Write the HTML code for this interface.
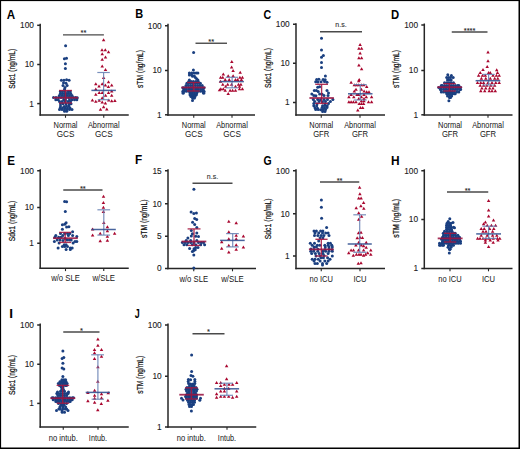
<!DOCTYPE html>
<html><head><meta charset="utf-8"><style>
html,body{margin:0;padding:0;background:#fff;}
body{width:520px;height:449px;overflow:hidden;}
svg{display:block;font-family:"Liberation Sans",sans-serif;}
text{stroke:#111;stroke-width:0.1px;paint-order:stroke;}
text.yl{stroke-width:0.22px;}
text.nb{stroke:none;}
</style></head><body>
<svg width="520" height="449" viewBox="0 0 520 449">
<rect x="0" y="0" width="1.1" height="449" fill="#000"/><rect x="0" y="0" width="520" height="1.1" fill="#000"/><rect x="518.5" y="0" width="1.5" height="449" fill="#000"/><rect x="0" y="447.5" width="520" height="1.5" fill="#000"/>
<line x1="40.2" y1="23.8" x2="40.2" y2="115.65" stroke="#262626" stroke-width="1.5"/>
<line x1="39.550000000000004" y1="115" x2="128.75" y2="115" stroke="#262626" stroke-width="1.5"/>
<line x1="37.2" y1="25.3" x2="40.2" y2="25.3" stroke="#262626" stroke-width="1.5"/>
<text x="33.900000000000006" y="28.2" font-size="8.3" text-anchor="end" font-weight="normal" fill="#1a1a1a" >100</text>
<line x1="37.2" y1="64.5" x2="40.2" y2="64.5" stroke="#262626" stroke-width="1.5"/>
<text x="33.900000000000006" y="67.4" font-size="8.3" text-anchor="end" font-weight="normal" fill="#1a1a1a" >10</text>
<line x1="37.2" y1="103.6" x2="40.2" y2="103.6" stroke="#262626" stroke-width="1.5"/>
<text x="33.900000000000006" y="106.5" font-size="8.3" text-anchor="end" font-weight="normal" fill="#1a1a1a" >1</text>
<line x1="65.5" y1="115" x2="65.5" y2="117.8" stroke="#262626" stroke-width="1.1"/>
<line x1="103.75" y1="115" x2="103.75" y2="117.8" stroke="#262626" stroke-width="1.1"/>
<text class="nb" x="65.5" y="127.8" font-size="8.8" text-anchor="middle" font-weight="normal" fill="#151515" textLength="24" lengthAdjust="spacingAndGlyphs" >Normal</text>
<text class="nb" x="65.5" y="137.2" font-size="8.8" text-anchor="middle" font-weight="normal" fill="#151515" textLength="17.7" lengthAdjust="spacingAndGlyphs" >GCS</text>
<text class="nb" x="103.75" y="127.8" font-size="8.8" text-anchor="middle" font-weight="normal" fill="#151515" textLength="31.6" lengthAdjust="spacingAndGlyphs" >Abnormal</text>
<text class="nb" x="103.75" y="137.2" font-size="8.8" text-anchor="middle" font-weight="normal" fill="#151515" textLength="17.7" lengthAdjust="spacingAndGlyphs" >GCS</text>
<line x1="63" y1="34.9" x2="103.9" y2="34.9" stroke="#4a4a4a" stroke-width="1.4"/>
<text x="83.45" y="35.4" font-size="7.5" text-anchor="middle" font-weight="normal" fill="#222" >**</text>
<text class="yl" x="0" y="0" font-size="8.3" text-anchor="middle" fill="#111" textLength="40" lengthAdjust="spacingAndGlyphs" transform="translate(14.6,68.75) rotate(-90)">Sdc1 (ng/mL)</text>
<line x1="168" y1="23.8" x2="168" y2="115.65" stroke="#262626" stroke-width="1.5"/>
<line x1="167.35" y1="115" x2="255" y2="115" stroke="#262626" stroke-width="1.5"/>
<line x1="165" y1="25.75" x2="168" y2="25.75" stroke="#262626" stroke-width="1.5"/>
<text x="161.7" y="28.65" font-size="8.3" text-anchor="end" font-weight="normal" fill="#1a1a1a" >100</text>
<line x1="165" y1="70.5" x2="168" y2="70.5" stroke="#262626" stroke-width="1.5"/>
<text x="161.7" y="73.4" font-size="8.3" text-anchor="end" font-weight="normal" fill="#1a1a1a" >10</text>
<line x1="165" y1="114.8" x2="168" y2="114.8" stroke="#262626" stroke-width="1.5"/>
<text x="161.7" y="117.7" font-size="8.3" text-anchor="end" font-weight="normal" fill="#1a1a1a" >1</text>
<line x1="193.75" y1="115" x2="193.75" y2="117.8" stroke="#262626" stroke-width="1.1"/>
<line x1="232" y1="115" x2="232" y2="117.8" stroke="#262626" stroke-width="1.1"/>
<text class="nb" x="193.75" y="127.8" font-size="8.8" text-anchor="middle" font-weight="normal" fill="#151515" textLength="24" lengthAdjust="spacingAndGlyphs" >Normal</text>
<text class="nb" x="193.75" y="137.2" font-size="8.8" text-anchor="middle" font-weight="normal" fill="#151515" textLength="17.7" lengthAdjust="spacingAndGlyphs" >GCS</text>
<text class="nb" x="232" y="127.8" font-size="8.8" text-anchor="middle" font-weight="normal" fill="#151515" textLength="31.6" lengthAdjust="spacingAndGlyphs" >Abnormal</text>
<text class="nb" x="232" y="137.2" font-size="8.8" text-anchor="middle" font-weight="normal" fill="#151515" textLength="17.7" lengthAdjust="spacingAndGlyphs" >GCS</text>
<line x1="195.5" y1="43.25" x2="227" y2="43.25" stroke="#4a4a4a" stroke-width="1.4"/>
<text x="211.25" y="43.75" font-size="7.5" text-anchor="middle" font-weight="normal" fill="#222" >**</text>
<text class="yl" x="0" y="0" font-size="8.3" text-anchor="middle" fill="#111" textLength="38" lengthAdjust="spacingAndGlyphs" transform="translate(142.8,69) rotate(-90)">sTM (ng/mL)</text>
<line x1="296" y1="23.3" x2="296" y2="115.65" stroke="#262626" stroke-width="1.5"/>
<line x1="295.35" y1="115" x2="385" y2="115" stroke="#262626" stroke-width="1.5"/>
<line x1="293" y1="24.25" x2="296" y2="24.25" stroke="#262626" stroke-width="1.5"/>
<text x="289.7" y="27.15" font-size="8.3" text-anchor="end" font-weight="normal" fill="#1a1a1a" >100</text>
<line x1="293" y1="63.25" x2="296" y2="63.25" stroke="#262626" stroke-width="1.5"/>
<text x="289.7" y="66.15" font-size="8.3" text-anchor="end" font-weight="normal" fill="#1a1a1a" >10</text>
<line x1="293" y1="102.5" x2="296" y2="102.5" stroke="#262626" stroke-width="1.5"/>
<text x="289.7" y="105.4" font-size="8.3" text-anchor="end" font-weight="normal" fill="#1a1a1a" >1</text>
<line x1="321.25" y1="115" x2="321.25" y2="117.8" stroke="#262626" stroke-width="1.1"/>
<line x1="360" y1="115" x2="360" y2="117.8" stroke="#262626" stroke-width="1.1"/>
<text class="nb" x="321.25" y="127.8" font-size="8.8" text-anchor="middle" font-weight="normal" fill="#151515" textLength="24" lengthAdjust="spacingAndGlyphs" >Normal</text>
<text class="nb" x="321.25" y="137.2" font-size="8.8" text-anchor="middle" font-weight="normal" fill="#151515" textLength="16.2" lengthAdjust="spacingAndGlyphs" >GFR</text>
<text class="nb" x="360" y="127.8" font-size="8.8" text-anchor="middle" font-weight="normal" fill="#151515" textLength="31.6" lengthAdjust="spacingAndGlyphs" >Abnormal</text>
<text class="nb" x="360" y="137.2" font-size="8.8" text-anchor="middle" font-weight="normal" fill="#151515" textLength="16.2" lengthAdjust="spacingAndGlyphs" >GFR</text>
<line x1="320" y1="31.75" x2="362" y2="31.75" stroke="#4a4a4a" stroke-width="1.4"/>
<text x="341.0" y="27.45" font-size="7" text-anchor="middle" font-weight="normal" fill="#333" >n.s.</text>
<text class="yl" x="0" y="0" font-size="8.3" text-anchor="middle" fill="#111" textLength="40" lengthAdjust="spacingAndGlyphs" transform="translate(271,68) rotate(-90)">Sdc1 (ng/mL)</text>
<line x1="424.3" y1="23.5" x2="424.3" y2="115.65" stroke="#262626" stroke-width="1.5"/>
<line x1="423.65000000000003" y1="115" x2="512.5" y2="115" stroke="#262626" stroke-width="1.5"/>
<line x1="421.3" y1="25" x2="424.3" y2="25" stroke="#262626" stroke-width="1.5"/>
<text x="418.0" y="27.9" font-size="8.3" text-anchor="end" font-weight="normal" fill="#1a1a1a" >100</text>
<line x1="421.3" y1="70.5" x2="424.3" y2="70.5" stroke="#262626" stroke-width="1.5"/>
<text x="418.0" y="73.4" font-size="8.3" text-anchor="end" font-weight="normal" fill="#1a1a1a" >10</text>
<line x1="421.3" y1="114.8" x2="424.3" y2="114.8" stroke="#262626" stroke-width="1.5"/>
<text x="418.0" y="117.7" font-size="8.3" text-anchor="end" font-weight="normal" fill="#1a1a1a" >1</text>
<line x1="450" y1="115" x2="450" y2="117.8" stroke="#262626" stroke-width="1.1"/>
<line x1="488" y1="115" x2="488" y2="117.8" stroke="#262626" stroke-width="1.1"/>
<text class="nb" x="450" y="127.8" font-size="8.8" text-anchor="middle" font-weight="normal" fill="#151515" textLength="24" lengthAdjust="spacingAndGlyphs" >Normal</text>
<text class="nb" x="450" y="137.2" font-size="8.8" text-anchor="middle" font-weight="normal" fill="#151515" textLength="16.2" lengthAdjust="spacingAndGlyphs" >GFR</text>
<text class="nb" x="488" y="127.8" font-size="8.8" text-anchor="middle" font-weight="normal" fill="#151515" textLength="31.6" lengthAdjust="spacingAndGlyphs" >Abnormal</text>
<text class="nb" x="488" y="137.2" font-size="8.8" text-anchor="middle" font-weight="normal" fill="#151515" textLength="16.2" lengthAdjust="spacingAndGlyphs" >GFR</text>
<line x1="451.75" y1="32" x2="487.5" y2="32" stroke="#4a4a4a" stroke-width="1.4"/>
<text x="469.625" y="32.5" font-size="7.5" text-anchor="middle" font-weight="normal" fill="#222" >****</text>
<text class="yl" x="0" y="0" font-size="8.3" text-anchor="middle" fill="#111" textLength="38" lengthAdjust="spacingAndGlyphs" transform="translate(399.4,69) rotate(-90)">sTM (ng/mL)</text>
<line x1="40.2" y1="169.3" x2="40.2" y2="268.95" stroke="#262626" stroke-width="1.5"/>
<line x1="39.550000000000004" y1="268.3" x2="128.75" y2="268.3" stroke="#262626" stroke-width="1.5"/>
<line x1="37.2" y1="170.75" x2="40.2" y2="170.75" stroke="#262626" stroke-width="1.5"/>
<text x="33.900000000000006" y="173.65" font-size="8.3" text-anchor="end" font-weight="normal" fill="#1a1a1a" >100</text>
<line x1="37.2" y1="207.5" x2="40.2" y2="207.5" stroke="#262626" stroke-width="1.5"/>
<text x="33.900000000000006" y="210.4" font-size="8.3" text-anchor="end" font-weight="normal" fill="#1a1a1a" >10</text>
<line x1="37.2" y1="243.25" x2="40.2" y2="243.25" stroke="#262626" stroke-width="1.5"/>
<text x="33.900000000000006" y="246.15" font-size="8.3" text-anchor="end" font-weight="normal" fill="#1a1a1a" >1</text>
<line x1="65.5" y1="268.3" x2="65.5" y2="271.1" stroke="#262626" stroke-width="1.1"/>
<line x1="103.75" y1="268.3" x2="103.75" y2="271.1" stroke="#262626" stroke-width="1.1"/>
<text class="nb" x="65.5" y="281.3" font-size="8.8" text-anchor="middle" font-weight="normal" fill="#151515" textLength="28.6" lengthAdjust="spacingAndGlyphs" >w/o SLE</text>
<text class="nb" x="103.75" y="281.3" font-size="8.8" text-anchor="middle" font-weight="normal" fill="#151515" textLength="22.6" lengthAdjust="spacingAndGlyphs" >w/SLE</text>
<line x1="63.25" y1="190" x2="102.5" y2="190" stroke="#4a4a4a" stroke-width="1.4"/>
<text x="82.875" y="190.5" font-size="7.5" text-anchor="middle" font-weight="normal" fill="#222" >**</text>
<text class="yl" x="0" y="0" font-size="8.3" text-anchor="middle" fill="#111" textLength="40.5" lengthAdjust="spacingAndGlyphs" transform="translate(15,221.1) rotate(-90)">Sdc1 (ng/mL)</text>
<line x1="168" y1="169.3" x2="168" y2="269.15" stroke="#262626" stroke-width="1.5"/>
<line x1="167.35" y1="268.5" x2="256" y2="268.5" stroke="#262626" stroke-width="1.5"/>
<line x1="165" y1="170.75" x2="168" y2="170.75" stroke="#262626" stroke-width="1.5"/>
<text x="161.7" y="173.65" font-size="8.3" text-anchor="end" font-weight="normal" fill="#1a1a1a" >15</text>
<line x1="165" y1="203.75" x2="168" y2="203.75" stroke="#262626" stroke-width="1.5"/>
<text x="161.7" y="206.65" font-size="8.3" text-anchor="end" font-weight="normal" fill="#1a1a1a" >10</text>
<line x1="165" y1="236.25" x2="168" y2="236.25" stroke="#262626" stroke-width="1.5"/>
<text x="161.7" y="239.15" font-size="8.3" text-anchor="end" font-weight="normal" fill="#1a1a1a" >5</text>
<line x1="165" y1="268.5" x2="168" y2="268.5" stroke="#262626" stroke-width="1.5"/>
<text x="161.7" y="271.4" font-size="8.3" text-anchor="end" font-weight="normal" fill="#1a1a1a" >0</text>
<line x1="193.75" y1="268.5" x2="193.75" y2="271.3" stroke="#262626" stroke-width="1.1"/>
<line x1="232.5" y1="268.5" x2="232.5" y2="271.3" stroke="#262626" stroke-width="1.1"/>
<text class="nb" x="193.75" y="281.5" font-size="8.8" text-anchor="middle" font-weight="normal" fill="#151515" textLength="28.6" lengthAdjust="spacingAndGlyphs" >w/o SLE</text>
<text class="nb" x="232.5" y="281.5" font-size="8.8" text-anchor="middle" font-weight="normal" fill="#151515" textLength="22.6" lengthAdjust="spacingAndGlyphs" >w/SLE</text>
<line x1="192.5" y1="183.25" x2="232.5" y2="183.25" stroke="#4a4a4a" stroke-width="1.4"/>
<text x="212.5" y="178.95" font-size="7" text-anchor="middle" font-weight="normal" fill="#333" >n.s.</text>
<text class="yl" x="0" y="0" font-size="8.3" text-anchor="middle" fill="#111" textLength="38.5" lengthAdjust="spacingAndGlyphs" transform="translate(147.1,218.8) rotate(-90)">sTM (ng/mL)</text>
<line x1="296" y1="169.3" x2="296" y2="269.15" stroke="#262626" stroke-width="1.5"/>
<line x1="295.35" y1="268.5" x2="385" y2="268.5" stroke="#262626" stroke-width="1.5"/>
<line x1="293" y1="170.75" x2="296" y2="170.75" stroke="#262626" stroke-width="1.5"/>
<text x="289.7" y="173.65" font-size="8.3" text-anchor="end" font-weight="normal" fill="#1a1a1a" >100</text>
<line x1="293" y1="213.75" x2="296" y2="213.75" stroke="#262626" stroke-width="1.5"/>
<text x="289.7" y="216.65" font-size="8.3" text-anchor="end" font-weight="normal" fill="#1a1a1a" >10</text>
<line x1="293" y1="256" x2="296" y2="256" stroke="#262626" stroke-width="1.5"/>
<text x="289.7" y="258.9" font-size="8.3" text-anchor="end" font-weight="normal" fill="#1a1a1a" >1</text>
<line x1="321.25" y1="268.5" x2="321.25" y2="271.3" stroke="#262626" stroke-width="1.1"/>
<line x1="360" y1="268.5" x2="360" y2="271.3" stroke="#262626" stroke-width="1.1"/>
<text class="nb" x="321.25" y="281.5" font-size="8.8" text-anchor="middle" font-weight="normal" fill="#151515" textLength="23.4" lengthAdjust="spacingAndGlyphs" >no ICU</text>
<text class="nb" x="360" y="281.5" font-size="8.8" text-anchor="middle" font-weight="normal" fill="#151515" textLength="13.1" lengthAdjust="spacingAndGlyphs" >ICU</text>
<line x1="320" y1="182" x2="359.25" y2="182" stroke="#4a4a4a" stroke-width="1.4"/>
<text x="339.625" y="182.5" font-size="7.5" text-anchor="middle" font-weight="normal" fill="#222" >**</text>
<text class="yl" x="0" y="0" font-size="8.3" text-anchor="middle" fill="#111" textLength="40.8" lengthAdjust="spacingAndGlyphs" transform="translate(271.4,218.8) rotate(-90)">Sdc1 (ng/mL)</text>
<line x1="424.3" y1="169.3" x2="424.3" y2="269.15" stroke="#262626" stroke-width="1.5"/>
<line x1="423.65000000000003" y1="268.5" x2="512.5" y2="268.5" stroke="#262626" stroke-width="1.5"/>
<line x1="421.3" y1="170.75" x2="424.3" y2="170.75" stroke="#262626" stroke-width="1.5"/>
<text x="418.0" y="173.65" font-size="8.3" text-anchor="end" font-weight="normal" fill="#1a1a1a" >100</text>
<line x1="421.3" y1="219.5" x2="424.3" y2="219.5" stroke="#262626" stroke-width="1.5"/>
<text x="418.0" y="222.4" font-size="8.3" text-anchor="end" font-weight="normal" fill="#1a1a1a" >10</text>
<line x1="421.3" y1="268.5" x2="424.3" y2="268.5" stroke="#262626" stroke-width="1.5"/>
<text x="418.0" y="271.4" font-size="8.3" text-anchor="end" font-weight="normal" fill="#1a1a1a" >1</text>
<line x1="450" y1="268.5" x2="450" y2="271.3" stroke="#262626" stroke-width="1.1"/>
<line x1="488.5" y1="268.5" x2="488.5" y2="271.3" stroke="#262626" stroke-width="1.1"/>
<text class="nb" x="450" y="281.5" font-size="8.8" text-anchor="middle" font-weight="normal" fill="#151515" textLength="23.4" lengthAdjust="spacingAndGlyphs" >no ICU</text>
<text class="nb" x="488.5" y="281.5" font-size="8.8" text-anchor="middle" font-weight="normal" fill="#151515" textLength="13.1" lengthAdjust="spacingAndGlyphs" >ICU</text>
<line x1="447" y1="192" x2="488.25" y2="192" stroke="#4a4a4a" stroke-width="1.4"/>
<text x="467.625" y="192.5" font-size="7.5" text-anchor="middle" font-weight="normal" fill="#222" >**</text>
<text class="yl" x="0" y="0" font-size="8.3" text-anchor="middle" fill="#111" textLength="38.7" lengthAdjust="spacingAndGlyphs" transform="translate(399.1,218.3) rotate(-90)">sTM (ng/mL)</text>
<line x1="40.2" y1="323.5" x2="40.2" y2="427.65" stroke="#262626" stroke-width="1.5"/>
<line x1="39.550000000000004" y1="427" x2="128.75" y2="427" stroke="#262626" stroke-width="1.5"/>
<line x1="37.2" y1="325" x2="40.2" y2="325" stroke="#262626" stroke-width="1.5"/>
<text x="33.900000000000006" y="327.9" font-size="8.3" text-anchor="end" font-weight="normal" fill="#1a1a1a" >100</text>
<line x1="37.2" y1="364.25" x2="40.2" y2="364.25" stroke="#262626" stroke-width="1.5"/>
<text x="33.900000000000006" y="367.15" font-size="8.3" text-anchor="end" font-weight="normal" fill="#1a1a1a" >10</text>
<line x1="37.2" y1="403.4" x2="40.2" y2="403.4" stroke="#262626" stroke-width="1.5"/>
<text x="33.900000000000006" y="406.29999999999995" font-size="8.3" text-anchor="end" font-weight="normal" fill="#1a1a1a" >1</text>
<line x1="63.25" y1="427" x2="63.25" y2="429.8" stroke="#262626" stroke-width="1.1"/>
<line x1="98" y1="427" x2="98" y2="429.8" stroke="#262626" stroke-width="1.1"/>
<text class="nb" x="63.25" y="440.5" font-size="8.4" text-anchor="middle" font-weight="normal" fill="#151515" textLength="29.1" lengthAdjust="spacingAndGlyphs" >no intub.</text>
<text class="nb" x="98" y="440.5" font-size="8.4" text-anchor="middle" font-weight="normal" fill="#151515" textLength="18.3" lengthAdjust="spacingAndGlyphs" >Intub.</text>
<line x1="63.25" y1="332" x2="99.5" y2="332" stroke="#4a4a4a" stroke-width="1.4"/>
<text x="81.375" y="332.5" font-size="7.5" text-anchor="middle" font-weight="normal" fill="#222" >*</text>
<text class="yl" x="0" y="0" font-size="8.3" text-anchor="middle" fill="#111" textLength="40" lengthAdjust="spacingAndGlyphs" transform="translate(14.7,375) rotate(-90)">Sdc1 (ng/mL)</text>
<line x1="168" y1="323.5" x2="168" y2="427.65" stroke="#262626" stroke-width="1.5"/>
<line x1="167.35" y1="427" x2="256.25" y2="427" stroke="#262626" stroke-width="1.5"/>
<line x1="165" y1="325" x2="168" y2="325" stroke="#262626" stroke-width="1.5"/>
<text x="161.7" y="327.9" font-size="8.3" text-anchor="end" font-weight="normal" fill="#1a1a1a" >100</text>
<line x1="165" y1="376.25" x2="168" y2="376.25" stroke="#262626" stroke-width="1.5"/>
<text x="161.7" y="379.15" font-size="8.3" text-anchor="end" font-weight="normal" fill="#1a1a1a" >10</text>
<line x1="165" y1="427" x2="168" y2="427" stroke="#262626" stroke-width="1.5"/>
<text x="161.7" y="429.9" font-size="8.3" text-anchor="end" font-weight="normal" fill="#1a1a1a" >1</text>
<line x1="191.25" y1="427" x2="191.25" y2="429.8" stroke="#262626" stroke-width="1.1"/>
<line x1="227" y1="427" x2="227" y2="429.8" stroke="#262626" stroke-width="1.1"/>
<text class="nb" x="191.25" y="440.5" font-size="8.4" text-anchor="middle" font-weight="normal" fill="#151515" textLength="29.1" lengthAdjust="spacingAndGlyphs" >no intub.</text>
<text class="nb" x="227" y="440.5" font-size="8.4" text-anchor="middle" font-weight="normal" fill="#151515" textLength="18.3" lengthAdjust="spacingAndGlyphs" >Intub.</text>
<line x1="192.5" y1="333.75" x2="224.5" y2="333.75" stroke="#4a4a4a" stroke-width="1.4"/>
<text x="208.5" y="334.25" font-size="7.5" text-anchor="middle" font-weight="normal" fill="#222" >*</text>
<text class="yl" x="0" y="0" font-size="8.3" text-anchor="middle" fill="#111" textLength="38" lengthAdjust="spacingAndGlyphs" transform="translate(143.1,374.7) rotate(-90)">sTM (ng/mL)</text>
<text class="nb" x="0" y="0" font-size="12.3" font-weight="bold" fill="#000" transform="translate(6.85,18.5) scale(0.949,1)">A</text>
<text class="nb" x="0" y="0" font-size="12.3" font-weight="bold" fill="#000" transform="translate(135.23,18.4) scale(0.893,1)">B</text>
<text class="nb" x="0" y="0" font-size="12.3" font-weight="bold" fill="#000" transform="translate(263.38,18.5) scale(0.863,1)">C</text>
<text class="nb" x="0" y="0" font-size="12.3" font-weight="bold" fill="#000" transform="translate(391.01,18.5) scale(0.920,1)">D</text>
<text class="nb" x="0" y="0" font-size="12.3" font-weight="bold" fill="#000" transform="translate(7.19,164.5) scale(0.944,1)">E</text>
<text class="nb" x="0" y="0" font-size="12.3" font-weight="bold" fill="#000" transform="translate(134.97,164.4) scale(0.959,1)">F</text>
<text class="nb" x="0" y="0" font-size="12.3" font-weight="bold" fill="#000" transform="translate(263.38,164.5) scale(0.849,1)">G</text>
<text class="nb" x="0" y="0" font-size="12.3" font-weight="bold" fill="#000" transform="translate(390.97,164.5) scale(0.967,1)">H</text>
<text class="nb" x="0" y="0" font-size="12.3" font-weight="bold" fill="#000" transform="translate(9.25,317.5) scale(1.103,1)">I</text>
<text class="nb" x="0" y="0" font-size="12.3" font-weight="bold" fill="#000" transform="translate(134.82,317.5) scale(0.727,1)">J</text>
<g fill="#1a3f80"><circle cx="65.6" cy="45.8" r="1.5"/><circle cx="64.4" cy="58.7" r="1.5"/><circle cx="66.5" cy="58.2" r="1.5"/><circle cx="65.4" cy="63.8" r="1.5"/><circle cx="65.4" cy="68.6" r="1.5"/><circle cx="61.4" cy="80.3" r="1.5"/><circle cx="64.0" cy="80.3" r="1.5"/><circle cx="66.6" cy="79.7" r="1.5"/><circle cx="69.1" cy="80.3" r="1.5"/><circle cx="63.5" cy="82.8" r="1.5"/><circle cx="66.0" cy="83.3" r="1.5"/><circle cx="63.0" cy="85.4" r="1.5"/><circle cx="67.1" cy="85.4" r="1.5"/><circle cx="65.0" cy="87.4" r="1.5"/><circle cx="64.5" cy="89.2" r="1.5"/><circle cx="60.4" cy="91.5" r="1.5"/><circle cx="62.5" cy="91.5" r="1.5"/><circle cx="65.0" cy="91.3" r="1.5"/><circle cx="68.1" cy="91.5" r="1.5"/><circle cx="70.2" cy="91.5" r="1.5"/><circle cx="60.4" cy="93.6" r="1.5"/><circle cx="62.5" cy="93.6" r="1.5"/><circle cx="64.5" cy="93.4" r="1.5"/><circle cx="66.5" cy="93.6" r="1.5"/><circle cx="68.5" cy="93.6" r="1.5"/><circle cx="70.7" cy="93.6" r="1.5"/><circle cx="59.4" cy="95.6" r="1.5"/><circle cx="62.0" cy="95.6" r="1.5"/><circle cx="64.5" cy="95.6" r="1.5"/><circle cx="67.0" cy="95.6" r="1.5"/><circle cx="69.5" cy="95.6" r="1.5"/><circle cx="72.0" cy="95.6" r="1.5"/><circle cx="53.5" cy="97.5" r="1.5"/><circle cx="56.0" cy="97.5" r="1.5"/><circle cx="58.5" cy="97.5" r="1.5"/><circle cx="61.0" cy="97.5" r="1.5"/><circle cx="63.5" cy="97.5" r="1.5"/><circle cx="66.0" cy="97.5" r="1.5"/><circle cx="68.5" cy="97.5" r="1.5"/><circle cx="71.0" cy="97.5" r="1.5"/><circle cx="73.5" cy="97.5" r="1.5"/><circle cx="75.7" cy="97.5" r="1.5"/><circle cx="77.3" cy="97.8" r="1.5"/><circle cx="55.8" cy="99.7" r="1.5"/><circle cx="58.2" cy="99.7" r="1.5"/><circle cx="63.7" cy="99.7" r="1.5"/><circle cx="65.5" cy="100.0" r="1.5"/><circle cx="69.5" cy="99.7" r="1.5"/><circle cx="72.0" cy="99.7" r="1.5"/><circle cx="74.5" cy="99.7" r="1.5"/><circle cx="76.8" cy="99.7" r="1.5"/><circle cx="59.5" cy="101.4" r="1.5"/><circle cx="62.0" cy="101.4" r="1.5"/><circle cx="65.0" cy="101.6" r="1.5"/><circle cx="68.0" cy="101.4" r="1.5"/><circle cx="70.5" cy="101.4" r="1.5"/><circle cx="60.5" cy="103.8" r="1.5"/><circle cx="63.0" cy="103.8" r="1.5"/><circle cx="66.0" cy="103.8" r="1.5"/><circle cx="69.0" cy="103.8" r="1.5"/><circle cx="71.0" cy="103.8" r="1.5"/><circle cx="60.5" cy="105.9" r="1.5"/><circle cx="66.5" cy="105.9" r="1.5"/><circle cx="69.0" cy="105.9" r="1.5"/><circle cx="64.2" cy="106.6" r="1.5"/><circle cx="60.2" cy="108.0" r="1.5"/><circle cx="62.5" cy="108.0" r="1.5"/><circle cx="65.0" cy="108.0" r="1.5"/><circle cx="67.5" cy="108.0" r="1.5"/><circle cx="70.0" cy="108.0" r="1.5"/><circle cx="59.5" cy="109.6" r="1.5"/><circle cx="62.0" cy="109.6" r="1.5"/><circle cx="64.5" cy="109.8" r="1.5"/><circle cx="67.0" cy="109.6" r="1.5"/><circle cx="69.5" cy="109.6" r="1.5"/><circle cx="72.0" cy="109.5" r="1.5"/><circle cx="64.5" cy="111.3" r="1.5"/><circle cx="66.7" cy="111.3" r="1.5"/></g>
<g fill="#a9072f"><path d="M103.60 38.35L101.85 41.35L105.35 41.35Z"/><path d="M102.00 48.15L100.25 51.15L103.75 51.15Z"/><path d="M105.30 48.15L103.55 51.15L107.05 51.15Z"/><path d="M108.50 50.35L106.75 53.35L110.25 53.35Z"/><path d="M102.20 52.15L100.45 55.15L103.95 55.15Z"/><path d="M105.50 55.45L103.75 58.45L107.25 58.45Z"/><path d="M102.20 57.65L100.45 60.65L103.95 60.65Z"/><path d="M102.20 64.55L100.45 67.55L103.95 67.55Z"/><path d="M105.50 67.95L103.75 70.95L107.25 70.95Z"/><path d="M103.60 76.05L101.85 79.05L105.35 79.05Z"/><path d="M108.50 80.15L106.75 83.15L110.25 83.15Z"/><path d="M95.80 82.35L94.05 85.35L97.55 85.35Z"/><path d="M102.20 82.35L100.45 85.35L103.95 85.35Z"/><path d="M99.00 84.55L97.25 87.55L100.75 87.55Z"/><path d="M105.40 83.55L103.65 86.55L107.15 86.55Z"/><path d="M108.40 85.05L106.65 88.05L110.15 88.05Z"/><path d="M111.70 83.55L109.95 86.55L113.45 86.55Z"/><path d="M95.80 87.55L94.05 90.55L97.55 90.55Z"/><path d="M111.70 89.45L109.95 92.45L113.45 92.45Z"/><path d="M99.20 90.95L97.45 93.95L100.95 93.95Z"/><path d="M102.20 90.95L100.45 93.95L103.95 93.95Z"/><path d="M108.50 90.95L106.75 93.95L110.25 93.95Z"/><path d="M95.80 92.75L94.05 95.75L97.55 95.75Z"/><path d="M105.60 93.65L103.85 96.65L107.35 96.65Z"/><path d="M111.70 93.65L109.95 96.65L113.45 96.65Z"/><path d="M102.20 96.35L100.45 99.35L103.95 99.35Z"/><path d="M92.40 98.55L90.65 101.55L94.15 101.55Z"/><path d="M95.80 99.75L94.05 102.75L97.55 102.75Z"/><path d="M99.20 98.75L97.45 101.75L100.95 101.75Z"/><path d="M108.70 98.55L106.95 101.55L110.45 101.55Z"/><path d="M111.70 99.25L109.95 102.25L113.45 102.25Z"/><path d="M114.90 98.95L113.15 101.95L116.65 101.95Z"/><path d="M102.20 100.55L100.45 103.55L103.95 103.55Z"/><path d="M105.40 101.55L103.65 104.55L107.15 104.55Z"/><path d="M103.60 105.15L101.85 108.15L105.35 108.15Z"/><path d="M100.50 107.65L98.75 110.65L102.25 110.65Z"/><path d="M106.80 107.45L105.05 110.45L108.55 110.45Z"/></g>
<g fill="#1a3f80"><circle cx="193.6" cy="52.4" r="1.5"/><circle cx="193.4" cy="70.1" r="1.5"/><circle cx="189.4" cy="72.9" r="1.5"/><circle cx="191.6" cy="72.9" r="1.5"/><circle cx="193.9" cy="72.9" r="1.5"/><circle cx="196.1" cy="72.9" r="1.5"/><circle cx="197.9" cy="73.1" r="1.5"/><circle cx="189.4" cy="74.9" r="1.5"/><circle cx="191.6" cy="74.9" r="1.5"/><circle cx="192.5" cy="76.2" r="1.5"/><circle cx="194.3" cy="76.0" r="1.5"/><circle cx="195.4" cy="77.5" r="1.5"/><circle cx="196.6" cy="78.8" r="1.5"/><circle cx="189.4" cy="80.0" r="1.5"/><circle cx="197.9" cy="80.0" r="1.5"/><circle cx="192.5" cy="100.6" r="1.5"/><circle cx="188.7" cy="81.4" r="1.5"/><circle cx="191.1" cy="81.4" r="1.5"/><circle cx="193.4" cy="81.4" r="1.5"/><circle cx="195.8" cy="81.4" r="1.5"/><circle cx="198.2" cy="81.4" r="1.5"/><circle cx="186.9" cy="83.2" r="1.5"/><circle cx="188.0" cy="83.2" r="1.5"/><circle cx="190.3" cy="83.2" r="1.5"/><circle cx="192.5" cy="83.2" r="1.5"/><circle cx="194.8" cy="83.2" r="1.5"/><circle cx="197.0" cy="83.2" r="1.5"/><circle cx="199.3" cy="83.2" r="1.5"/><circle cx="200.4" cy="83.2" r="1.5"/><circle cx="186.0" cy="85.4" r="1.5"/><circle cx="188.3" cy="85.4" r="1.5"/><circle cx="190.6" cy="85.4" r="1.5"/><circle cx="192.9" cy="85.4" r="1.5"/><circle cx="195.3" cy="85.4" r="1.5"/><circle cx="197.6" cy="85.4" r="1.5"/><circle cx="199.9" cy="85.4" r="1.5"/><circle cx="202.2" cy="85.4" r="1.5"/><circle cx="182.9" cy="87.7" r="1.5"/><circle cx="184.1" cy="87.7" r="1.5"/><circle cx="186.4" cy="87.7" r="1.5"/><circle cx="188.8" cy="87.7" r="1.5"/><circle cx="191.1" cy="87.7" r="1.5"/><circle cx="193.4" cy="87.7" r="1.5"/><circle cx="195.8" cy="87.7" r="1.5"/><circle cx="198.1" cy="87.7" r="1.5"/><circle cx="200.5" cy="87.7" r="1.5"/><circle cx="202.8" cy="87.7" r="1.5"/><circle cx="204.0" cy="87.7" r="1.5"/><circle cx="183.8" cy="89.4" r="1.5"/><circle cx="186.2" cy="89.4" r="1.5"/><circle cx="188.6" cy="89.4" r="1.5"/><circle cx="191.0" cy="89.4" r="1.5"/><circle cx="193.4" cy="89.4" r="1.5"/><circle cx="195.9" cy="89.4" r="1.5"/><circle cx="198.3" cy="89.4" r="1.5"/><circle cx="200.7" cy="89.4" r="1.5"/><circle cx="203.1" cy="89.4" r="1.5"/><circle cx="182.9" cy="91.2" r="1.5"/><circle cx="184.1" cy="91.2" r="1.5"/><circle cx="186.4" cy="91.2" r="1.5"/><circle cx="188.8" cy="91.2" r="1.5"/><circle cx="191.1" cy="91.2" r="1.5"/><circle cx="193.4" cy="91.2" r="1.5"/><circle cx="195.8" cy="91.2" r="1.5"/><circle cx="198.1" cy="91.2" r="1.5"/><circle cx="200.5" cy="91.2" r="1.5"/><circle cx="202.8" cy="91.2" r="1.5"/><circle cx="204.0" cy="91.2" r="1.5"/><circle cx="182.9" cy="93.0" r="1.5"/><circle cx="183.4" cy="93.0" r="1.5"/><circle cx="190.0" cy="93.0" r="1.5"/><circle cx="192.3" cy="93.0" r="1.5"/><circle cx="194.5" cy="93.0" r="1.5"/><circle cx="196.8" cy="93.0" r="1.5"/><circle cx="203.4" cy="93.0" r="1.5"/><circle cx="204.0" cy="93.0" r="1.5"/><circle cx="190.0" cy="94.8" r="1.5"/><circle cx="191.1" cy="94.8" r="1.5"/><circle cx="193.2" cy="94.8" r="1.5"/><circle cx="195.3" cy="94.8" r="1.5"/><circle cx="196.4" cy="94.8" r="1.5"/><circle cx="190.9" cy="96.6" r="1.5"/><circle cx="192.9" cy="96.6" r="1.5"/><circle cx="195.0" cy="96.6" r="1.5"/><circle cx="192.5" cy="98.0" r="1.5"/><circle cx="193.5" cy="98.0" r="1.5"/><circle cx="194.5" cy="98.0" r="1.5"/></g>
<g fill="#a9072f"><path d="M231.80 59.95L230.05 62.95L233.55 62.95Z"/><path d="M231.60 65.55L229.85 68.55L233.35 68.55Z"/><path d="M233.10 69.05L231.35 72.05L234.85 72.05Z"/><path d="M240.20 70.75L238.45 73.75L241.95 73.75Z"/><path d="M223.30 72.45L221.55 75.45L225.05 75.45Z"/><path d="M228.20 74.35L226.45 77.35L229.95 77.35Z"/><path d="M233.10 74.35L231.35 77.35L234.85 77.35Z"/><path d="M220.60 75.85L218.85 78.85L222.35 78.85Z"/><path d="M222.80 75.85L221.05 78.85L224.55 78.85Z"/><path d="M239.90 75.85L238.15 78.85L241.65 78.85Z"/><path d="M242.40 75.85L240.65 78.85L244.15 78.85Z"/><path d="M225.20 78.05L223.45 81.05L226.95 81.05Z"/><path d="M229.20 78.05L227.45 81.05L230.95 81.05Z"/><path d="M235.50 78.05L233.75 81.05L237.25 81.05Z"/><path d="M237.70 78.05L235.95 81.05L239.45 81.05Z"/><path d="M241.40 78.05L239.65 81.05L243.15 81.05Z"/><path d="M220.50 79.85L218.75 82.85L222.25 82.85Z"/><path d="M222.80 82.75L221.05 85.75L224.55 85.75Z"/><path d="M227.70 82.75L225.95 85.75L229.45 85.75Z"/><path d="M231.60 82.75L229.85 85.75L233.35 85.75Z"/><path d="M238.50 82.75L236.75 85.75L240.25 85.75Z"/><path d="M240.90 82.75L239.15 85.75L242.65 85.75Z"/><path d="M225.70 84.75L223.95 87.75L227.45 87.75Z"/><path d="M235.50 84.75L233.75 87.75L237.25 87.75Z"/><path d="M239.50 84.75L237.75 87.75L241.25 87.75Z"/><path d="M220.80 87.15L219.05 90.15L222.55 90.15Z"/><path d="M223.30 87.15L221.55 90.15L225.05 90.15Z"/><path d="M239.50 87.15L237.75 90.15L241.25 90.15Z"/><path d="M242.40 87.15L240.65 90.15L244.15 90.15Z"/><path d="M225.20 88.65L223.45 91.65L226.95 91.65Z"/><path d="M230.10 88.65L228.35 91.65L231.85 91.65Z"/><path d="M232.60 88.65L230.85 91.65L234.35 91.65Z"/><path d="M235.50 88.65L233.75 91.65L237.25 91.65Z"/><path d="M228.20 92.05L226.45 95.05L229.95 95.05Z"/><path d="M219.50 88.15L217.75 91.15L221.25 91.15Z"/></g>
<g fill="#1a3f80"><circle cx="321.5" cy="38.2" r="1.5"/><circle cx="321.5" cy="50.1" r="1.5"/><circle cx="323.4" cy="55.5" r="1.5"/><circle cx="321.5" cy="57.3" r="1.5"/><circle cx="321.5" cy="62.6" r="1.5"/><circle cx="321.5" cy="67.5" r="1.5"/><circle cx="325.4" cy="75.9" r="1.5"/><circle cx="316.7" cy="79.4" r="1.5"/><circle cx="318.9" cy="79.2" r="1.5"/><circle cx="323.1" cy="79.4" r="1.5"/><circle cx="325.2" cy="79.8" r="1.5"/><circle cx="315.7" cy="81.8" r="1.5"/><circle cx="318.0" cy="82.0" r="1.5"/><circle cx="321.1" cy="81.8" r="1.5"/><circle cx="324.5" cy="81.6" r="1.5"/><circle cx="327.0" cy="82.2" r="1.5"/><circle cx="317.7" cy="87.2" r="1.5"/><circle cx="319.6" cy="86.7" r="1.5"/><circle cx="314.3" cy="90.6" r="1.5"/><circle cx="316.4" cy="90.4" r="1.5"/><circle cx="327.0" cy="90.6" r="1.5"/><circle cx="318.2" cy="91.6" r="1.5"/><circle cx="328.5" cy="93.1" r="1.5"/><circle cx="311.8" cy="94.0" r="1.5"/><circle cx="319.6" cy="94.0" r="1.5"/><circle cx="322.1" cy="94.3" r="1.5"/><circle cx="313.8" cy="95.5" r="1.5"/><circle cx="315.9" cy="95.7" r="1.5"/><circle cx="324.0" cy="95.5" r="1.5"/><circle cx="328.0" cy="95.6" r="1.5"/><circle cx="313.3" cy="99.5" r="1.5"/><circle cx="317.7" cy="99.5" r="1.5"/><circle cx="320.5" cy="99.8" r="1.5"/><circle cx="324.0" cy="99.5" r="1.5"/><circle cx="327.5" cy="99.5" r="1.5"/><circle cx="332.9" cy="99.5" r="1.5"/><circle cx="314.7" cy="101.4" r="1.5"/><circle cx="319.2" cy="101.4" r="1.5"/><circle cx="322.5" cy="101.8" r="1.5"/><circle cx="325.5" cy="101.4" r="1.5"/><circle cx="330.4" cy="101.4" r="1.5"/><circle cx="313.8" cy="103.6" r="1.5"/><circle cx="317.0" cy="103.8" r="1.5"/><circle cx="325.0" cy="103.8" r="1.5"/><circle cx="328.5" cy="103.6" r="1.5"/><circle cx="313.8" cy="105.8" r="1.5"/><circle cx="316.7" cy="105.8" r="1.5"/><circle cx="322.6" cy="105.8" r="1.5"/><circle cx="325.0" cy="105.6" r="1.5"/><circle cx="327.2" cy="105.8" r="1.5"/><circle cx="322.1" cy="107.6" r="1.5"/><circle cx="324.5" cy="107.8" r="1.5"/><circle cx="327.0" cy="107.5" r="1.5"/><circle cx="315.0" cy="107.8" r="1.5"/><circle cx="317.5" cy="108.2" r="1.5"/><circle cx="315.7" cy="109.5" r="1.5"/><circle cx="318.2" cy="109.6" r="1.5"/><circle cx="320.7" cy="109.8" r="1.5"/><circle cx="323.1" cy="109.5" r="1.5"/><circle cx="325.6" cy="109.6" r="1.5"/><circle cx="322.6" cy="111.5" r="1.5"/><circle cx="325.0" cy="111.4" r="1.5"/></g>
<g fill="#a9072f"><path d="M360.10 42.95L358.35 45.95L361.85 45.95Z"/><path d="M358.90 46.85L357.15 49.85L360.65 49.85Z"/><path d="M361.60 46.85L359.85 49.85L363.35 49.85Z"/><path d="M360.10 51.55L358.35 54.55L361.85 54.55Z"/><path d="M358.90 56.15L357.15 59.15L360.65 59.15Z"/><path d="M361.60 56.15L359.85 59.15L363.35 59.15Z"/><path d="M358.90 63.55L357.15 66.55L360.65 66.55Z"/><path d="M361.60 67.15L359.85 70.15L363.35 70.15Z"/><path d="M359.20 77.95L357.45 80.95L360.95 80.95Z"/><path d="M358.70 79.25L356.95 82.25L360.45 82.25Z"/><path d="M351.10 80.75L349.35 83.75L352.85 83.75Z"/><path d="M354.30 83.25L352.55 86.25L356.05 86.25Z"/><path d="M356.50 83.25L354.75 86.25L358.25 86.25Z"/><path d="M358.70 83.25L356.95 86.25L360.45 86.25Z"/><path d="M361.40 83.25L359.65 86.25L363.15 86.25Z"/><path d="M363.90 83.25L362.15 86.25L365.65 86.25Z"/><path d="M366.70 85.05L364.95 88.05L368.45 88.05Z"/><path d="M356.00 87.75L354.25 90.75L357.75 90.75Z"/><path d="M361.40 87.75L359.65 90.75L363.15 90.75Z"/><path d="M354.30 89.55L352.55 92.55L356.05 92.55Z"/><path d="M364.10 89.55L362.35 92.55L365.85 92.55Z"/><path d="M366.70 90.35L364.95 93.35L368.45 93.35Z"/><path d="M369.00 90.35L367.25 93.35L370.75 93.35Z"/><path d="M351.10 93.05L349.35 96.05L352.85 96.05Z"/><path d="M357.00 93.05L355.25 96.05L358.75 96.05Z"/><path d="M358.70 93.05L356.95 96.05L360.45 96.05Z"/><path d="M364.00 93.05L362.25 96.05L365.75 96.05Z"/><path d="M348.90 95.35L347.15 98.35L350.65 98.35Z"/><path d="M353.80 95.35L352.05 98.35L355.55 98.35Z"/><path d="M361.40 95.35L359.65 98.35L363.15 98.35Z"/><path d="M366.30 95.35L364.55 98.35L368.05 98.35Z"/><path d="M371.60 95.35L369.85 98.35L373.35 98.35Z"/><path d="M364.00 97.05L362.25 100.05L365.75 100.05Z"/><path d="M358.70 97.05L356.95 100.05L360.45 100.05Z"/><path d="M348.90 100.15L347.15 103.15L350.65 103.15Z"/><path d="M351.10 100.15L349.35 103.15L352.85 103.15Z"/><path d="M353.40 100.15L351.65 103.15L355.15 103.15Z"/><path d="M356.00 100.15L354.25 103.15L357.75 103.15Z"/><path d="M368.50 100.15L366.75 103.15L370.25 103.15Z"/><path d="M371.60 100.15L369.85 103.15L373.35 103.15Z"/><path d="M361.40 99.35L359.65 102.35L363.15 102.35Z"/><path d="M364.00 99.35L362.25 102.35L365.75 102.35Z"/><path d="M359.20 101.95L357.45 104.95L360.95 104.95Z"/><path d="M361.40 101.95L359.65 104.95L363.15 104.95Z"/><path d="M363.60 101.95L361.85 104.95L365.35 104.95Z"/><path d="M360.50 105.95L358.75 108.95L362.25 108.95Z"/><path d="M362.70 105.95L360.95 108.95L364.45 108.95Z"/><path d="M357.80 108.45L356.05 111.45L359.55 111.45Z"/></g>
<g fill="#1a3f80"><circle cx="447.8" cy="74.7" r="1.5"/><circle cx="451.4" cy="75.6" r="1.5"/><circle cx="453.2" cy="77.6" r="1.5"/><circle cx="448.9" cy="100.8" r="1.5"/><circle cx="446.7" cy="77.4" r="1.5"/><circle cx="448.6" cy="77.4" r="1.5"/><circle cx="450.5" cy="77.4" r="1.5"/><circle cx="447.5" cy="80.0" r="1.5"/><circle cx="448.4" cy="80.0" r="1.5"/><circle cx="450.3" cy="80.0" r="1.5"/><circle cx="451.2" cy="80.0" r="1.5"/><circle cx="444.5" cy="82.7" r="1.5"/><circle cx="446.8" cy="82.7" r="1.5"/><circle cx="449.0" cy="82.7" r="1.5"/><circle cx="451.2" cy="82.7" r="1.5"/><circle cx="453.5" cy="82.7" r="1.5"/><circle cx="441.3" cy="85.4" r="1.5"/><circle cx="442.4" cy="85.4" r="1.5"/><circle cx="444.6" cy="85.4" r="1.5"/><circle cx="446.8" cy="85.4" r="1.5"/><circle cx="449.0" cy="85.4" r="1.5"/><circle cx="451.1" cy="85.4" r="1.5"/><circle cx="453.3" cy="85.4" r="1.5"/><circle cx="455.5" cy="85.4" r="1.5"/><circle cx="457.7" cy="85.4" r="1.5"/><circle cx="458.8" cy="85.4" r="1.5"/><circle cx="438.8" cy="87.6" r="1.5"/><circle cx="441.2" cy="87.6" r="1.5"/><circle cx="443.6" cy="87.6" r="1.5"/><circle cx="446.1" cy="87.6" r="1.5"/><circle cx="448.5" cy="87.6" r="1.5"/><circle cx="450.9" cy="87.6" r="1.5"/><circle cx="453.3" cy="87.6" r="1.5"/><circle cx="455.8" cy="87.6" r="1.5"/><circle cx="458.2" cy="87.6" r="1.5"/><circle cx="460.6" cy="87.6" r="1.5"/><circle cx="440.4" cy="89.6" r="1.5"/><circle cx="441.5" cy="89.6" r="1.5"/><circle cx="443.8" cy="89.6" r="1.5"/><circle cx="446.0" cy="89.6" r="1.5"/><circle cx="448.3" cy="89.6" r="1.5"/><circle cx="450.5" cy="89.6" r="1.5"/><circle cx="452.7" cy="89.6" r="1.5"/><circle cx="455.0" cy="89.6" r="1.5"/><circle cx="457.2" cy="89.6" r="1.5"/><circle cx="459.5" cy="89.6" r="1.5"/><circle cx="460.6" cy="89.6" r="1.5"/><circle cx="441.3" cy="92.0" r="1.5"/><circle cx="443.5" cy="92.0" r="1.5"/><circle cx="445.7" cy="92.0" r="1.5"/><circle cx="447.9" cy="92.0" r="1.5"/><circle cx="450.1" cy="92.0" r="1.5"/><circle cx="452.2" cy="92.0" r="1.5"/><circle cx="454.4" cy="92.0" r="1.5"/><circle cx="456.6" cy="92.0" r="1.5"/><circle cx="458.8" cy="92.0" r="1.5"/><circle cx="446.7" cy="93.8" r="1.5"/><circle cx="447.8" cy="93.8" r="1.5"/><circle cx="449.9" cy="93.8" r="1.5"/><circle cx="452.0" cy="93.8" r="1.5"/><circle cx="454.1" cy="93.8" r="1.5"/><circle cx="455.2" cy="93.8" r="1.5"/><circle cx="447.5" cy="96.0" r="1.5"/><circle cx="449.6" cy="96.0" r="1.5"/><circle cx="451.7" cy="96.0" r="1.5"/><circle cx="449.5" cy="97.6" r="1.5"/><circle cx="450.0" cy="97.6" r="1.5"/><circle cx="450.5" cy="97.6" r="1.5"/></g>
<g fill="#a9072f"><path d="M488.00 50.45L486.25 53.45L489.75 53.45Z"/><path d="M488.00 59.35L486.25 62.35L489.75 62.35Z"/><path d="M487.20 64.95L485.45 67.95L488.95 67.95Z"/><path d="M483.00 67.95L481.25 70.95L484.75 70.95Z"/><path d="M496.70 68.25L494.95 71.25L498.45 71.25Z"/><path d="M480.20 71.05L478.45 74.05L481.95 74.05Z"/><path d="M488.60 71.05L486.85 74.05L490.35 74.05Z"/><path d="M490.30 71.05L488.55 74.05L492.05 74.05Z"/><path d="M497.50 71.05L495.75 74.05L499.25 74.05Z"/><path d="M478.60 73.85L476.85 76.85L480.35 76.85Z"/><path d="M482.50 73.85L480.75 76.85L484.25 76.85Z"/><path d="M485.30 73.85L483.55 76.85L487.05 76.85Z"/><path d="M493.00 73.85L491.25 76.85L494.75 76.85Z"/><path d="M496.40 73.85L494.65 76.85L498.15 76.85Z"/><path d="M499.20 73.85L497.45 76.85L500.95 76.85Z"/><path d="M481.40 76.65L479.65 79.65L483.15 79.65Z"/><path d="M485.80 76.65L484.05 79.65L487.55 79.65Z"/><path d="M490.30 76.65L488.55 79.65L492.05 79.65Z"/><path d="M494.70 76.65L492.95 79.65L496.45 79.65Z"/><path d="M497.80 76.65L496.05 79.65L499.55 79.65Z"/><path d="M477.50 81.05L475.75 84.05L479.25 84.05Z"/><path d="M480.80 81.05L479.05 84.05L482.55 84.05Z"/><path d="M483.60 81.05L481.85 84.05L485.35 84.05Z"/><path d="M488.00 81.05L486.25 84.05L489.75 84.05Z"/><path d="M492.00 81.05L490.25 84.05L493.75 84.05Z"/><path d="M495.80 81.05L494.05 84.05L497.55 84.05Z"/><path d="M499.20 81.05L497.45 84.05L500.95 84.05Z"/><path d="M480.20 83.85L478.45 86.85L481.95 86.85Z"/><path d="M483.60 83.85L481.85 86.85L485.35 86.85Z"/><path d="M486.90 83.85L485.15 86.85L488.65 86.85Z"/><path d="M490.80 83.85L489.05 86.85L492.55 86.85Z"/><path d="M494.70 83.85L492.95 86.85L496.45 86.85Z"/><path d="M481.90 86.45L480.15 89.45L483.65 89.45Z"/><path d="M485.80 86.45L484.05 89.45L487.55 89.45Z"/><path d="M489.70 86.45L487.95 89.45L491.45 89.45Z"/><path d="M493.00 86.45L491.25 89.45L494.75 89.45Z"/><path d="M480.80 89.15L479.05 92.15L482.55 92.15Z"/><path d="M484.70 89.15L482.95 92.15L486.45 92.15Z"/><path d="M489.20 89.15L487.45 92.15L490.95 92.15Z"/><path d="M492.00 89.15L490.25 92.15L493.75 92.15Z"/><path d="M495.30 89.15L493.55 92.15L497.05 92.15Z"/></g>
<g fill="#1a3f80"><circle cx="64.6" cy="201.5" r="1.5"/><circle cx="66.6" cy="201.7" r="1.5"/><circle cx="65.3" cy="211.6" r="1.5"/><circle cx="66.1" cy="222.8" r="1.5"/><circle cx="62.4" cy="224.7" r="1.5"/><circle cx="64.7" cy="224.2" r="1.5"/><circle cx="66.6" cy="227.0" r="1.5"/><circle cx="68.9" cy="226.7" r="1.5"/><circle cx="62.4" cy="229.3" r="1.5"/><circle cx="72.6" cy="231.7" r="1.5"/><circle cx="60.5" cy="233.6" r="1.5"/><circle cx="64.7" cy="233.6" r="1.5"/><circle cx="67.5" cy="233.6" r="1.5"/><circle cx="69.8" cy="233.6" r="1.5"/><circle cx="55.8" cy="235.4" r="1.5"/><circle cx="62.8" cy="235.4" r="1.5"/><circle cx="68.4" cy="235.4" r="1.5"/><circle cx="72.6" cy="235.4" r="1.5"/><circle cx="76.8" cy="236.4" r="1.5"/><circle cx="54.9" cy="237.3" r="1.5"/><circle cx="58.6" cy="237.3" r="1.5"/><circle cx="61.0" cy="237.3" r="1.5"/><circle cx="57.2" cy="240.1" r="1.5"/><circle cx="60.0" cy="240.1" r="1.5"/><circle cx="67.0" cy="240.1" r="1.5"/><circle cx="69.4" cy="240.1" r="1.5"/><circle cx="71.2" cy="240.1" r="1.5"/><circle cx="54.4" cy="241.5" r="1.5"/><circle cx="75.0" cy="241.5" r="1.5"/><circle cx="76.8" cy="241.5" r="1.5"/><circle cx="59.1" cy="242.9" r="1.5"/><circle cx="73.1" cy="242.9" r="1.5"/><circle cx="64.2" cy="244.8" r="1.5"/><circle cx="66.1" cy="244.8" r="1.5"/><circle cx="62.4" cy="246.6" r="1.5"/><circle cx="64.7" cy="246.6" r="1.5"/><circle cx="67.5" cy="246.6" r="1.5"/><circle cx="58.1" cy="248.0" r="1.5"/><circle cx="72.2" cy="248.0" r="1.5"/><circle cx="70.3" cy="248.0" r="1.5"/><circle cx="66.1" cy="249.4" r="1.5"/><circle cx="70.3" cy="249.6" r="1.5"/><circle cx="65.0" cy="238.5" r="1.5"/><circle cx="63.0" cy="240.5" r="1.5"/></g>
<g fill="#a9072f"><path d="M103.50 194.85L101.75 197.85L105.25 197.85Z"/><path d="M103.40 200.95L101.65 203.95L105.15 203.95Z"/><path d="M103.40 205.75L101.65 208.75L105.15 208.75Z"/><path d="M103.40 209.95L101.65 212.95L105.15 212.95Z"/><path d="M103.80 221.05L102.05 224.05L105.55 224.05Z"/><path d="M107.40 225.35L105.65 228.35L109.15 228.35Z"/><path d="M92.60 227.45L90.85 230.45L94.35 230.45Z"/><path d="M107.40 229.25L105.65 232.25L109.15 232.25Z"/><path d="M100.20 231.85L98.45 234.85L101.95 234.85Z"/><path d="M114.60 231.85L112.85 234.85L116.35 234.85Z"/><path d="M92.60 233.45L90.85 236.45L94.35 236.45Z"/><path d="M107.40 234.65L105.65 237.65L109.15 237.65Z"/><path d="M100.20 239.15L98.45 242.15L101.95 242.15Z"/><path d="M107.40 238.65L105.65 241.65L109.15 241.65Z"/></g>
<g fill="#1a3f80"><circle cx="193.9" cy="189.3" r="1.5"/><circle cx="191.1" cy="212.0" r="1.5"/><circle cx="193.8" cy="213.4" r="1.5"/><circle cx="196.4" cy="213.0" r="1.5"/><circle cx="194.7" cy="218.4" r="1.5"/><circle cx="196.7" cy="219.5" r="1.5"/><circle cx="192.6" cy="222.3" r="1.5"/><circle cx="194.7" cy="224.4" r="1.5"/><circle cx="196.8" cy="227.6" r="1.5"/><circle cx="191.3" cy="230.4" r="1.5"/><circle cx="192.4" cy="233.7" r="1.5"/><circle cx="196.8" cy="233.1" r="1.5"/><circle cx="191.3" cy="235.9" r="1.5"/><circle cx="198.5" cy="236.5" r="1.5"/><circle cx="195.7" cy="236.3" r="1.5"/><circle cx="187.9" cy="238.1" r="1.5"/><circle cx="186.2" cy="240.4" r="1.5"/><circle cx="190.7" cy="240.4" r="1.5"/><circle cx="196.8" cy="240.4" r="1.5"/><circle cx="182.4" cy="242.6" r="1.5"/><circle cx="185.1" cy="242.6" r="1.5"/><circle cx="187.9" cy="242.6" r="1.5"/><circle cx="190.7" cy="242.6" r="1.5"/><circle cx="193.8" cy="242.6" r="1.5"/><circle cx="198.5" cy="242.6" r="1.5"/><circle cx="201.3" cy="242.6" r="1.5"/><circle cx="203.5" cy="242.6" r="1.5"/><circle cx="184.0" cy="244.8" r="1.5"/><circle cx="186.8" cy="244.8" r="1.5"/><circle cx="192.4" cy="244.8" r="1.5"/><circle cx="195.7" cy="244.8" r="1.5"/><circle cx="200.7" cy="244.8" r="1.5"/><circle cx="204.6" cy="244.8" r="1.5"/><circle cx="195.7" cy="247.4" r="1.5"/><circle cx="198.0" cy="247.4" r="1.5"/><circle cx="189.6" cy="248.5" r="1.5"/><circle cx="194.0" cy="248.7" r="1.5"/><circle cx="193.5" cy="250.7" r="1.5"/><circle cx="195.2" cy="249.8" r="1.5"/><circle cx="192.4" cy="251.5" r="1.5"/><circle cx="193.8" cy="254.9" r="1.5"/><circle cx="193.8" cy="268.0" r="1.5"/></g>
<g fill="#a9072f"><path d="M228.80 219.85L227.05 222.85L230.55 222.85Z"/><path d="M236.20 221.25L234.45 224.25L237.95 224.25Z"/><path d="M228.80 230.15L227.05 233.15L230.55 233.15Z"/><path d="M236.20 233.65L234.45 236.65L237.95 236.65Z"/><path d="M243.40 234.55L241.65 237.55L245.15 237.55Z"/><path d="M228.80 237.35L227.05 240.35L230.55 240.35Z"/><path d="M236.20 237.35L234.45 240.35L237.95 240.35Z"/><path d="M221.70 240.35L219.95 243.35L223.45 243.35Z"/><path d="M228.80 243.65L227.05 246.65L230.55 246.65Z"/><path d="M236.20 243.15L234.45 246.15L237.95 246.15Z"/><path d="M221.70 246.75L219.95 249.75L223.45 249.75Z"/><path d="M243.40 245.55L241.65 248.55L245.15 248.55Z"/><path d="M236.20 247.65L234.45 250.65L237.95 250.65Z"/><path d="M228.80 250.45L227.05 253.45L230.55 253.45Z"/></g>
<g fill="#1a3f80"><circle cx="321.4" cy="200.1" r="1.5"/><circle cx="321.4" cy="207.3" r="1.5"/><circle cx="321.6" cy="218.3" r="1.5"/><circle cx="326.6" cy="227.4" r="1.5"/><circle cx="314.0" cy="231.1" r="1.5"/><circle cx="316.4" cy="231.1" r="1.5"/><circle cx="320.6" cy="231.1" r="1.5"/><circle cx="322.9" cy="231.1" r="1.5"/><circle cx="315.0" cy="233.0" r="1.5"/><circle cx="318.7" cy="233.0" r="1.5"/><circle cx="322.5" cy="233.0" r="1.5"/><circle cx="325.7" cy="233.0" r="1.5"/><circle cx="328.1" cy="233.0" r="1.5"/><circle cx="314.5" cy="235.4" r="1.5"/><circle cx="317.8" cy="235.4" r="1.5"/><circle cx="321.1" cy="235.4" r="1.5"/><circle cx="323.9" cy="235.4" r="1.5"/><circle cx="329.0" cy="235.4" r="1.5"/><circle cx="320.1" cy="237.7" r="1.5"/><circle cx="322.9" cy="237.7" r="1.5"/><circle cx="318.7" cy="241.0" r="1.5"/><circle cx="310.3" cy="243.3" r="1.5"/><circle cx="314.5" cy="243.3" r="1.5"/><circle cx="328.1" cy="243.3" r="1.5"/><circle cx="330.4" cy="243.3" r="1.5"/><circle cx="312.2" cy="245.2" r="1.5"/><circle cx="317.3" cy="245.2" r="1.5"/><circle cx="319.7" cy="245.2" r="1.5"/><circle cx="324.8" cy="245.2" r="1.5"/><circle cx="328.1" cy="245.2" r="1.5"/><circle cx="331.8" cy="245.2" r="1.5"/><circle cx="314.0" cy="247.1" r="1.5"/><circle cx="316.4" cy="247.1" r="1.5"/><circle cx="325.3" cy="247.1" r="1.5"/><circle cx="329.0" cy="247.1" r="1.5"/><circle cx="332.3" cy="247.1" r="1.5"/><circle cx="310.8" cy="251.3" r="1.5"/><circle cx="313.6" cy="251.3" r="1.5"/><circle cx="317.8" cy="251.3" r="1.5"/><circle cx="322.9" cy="251.3" r="1.5"/><circle cx="325.7" cy="251.3" r="1.5"/><circle cx="329.0" cy="251.3" r="1.5"/><circle cx="332.3" cy="251.3" r="1.5"/><circle cx="311.7" cy="253.6" r="1.5"/><circle cx="315.4" cy="253.6" r="1.5"/><circle cx="319.2" cy="253.6" r="1.5"/><circle cx="322.9" cy="253.6" r="1.5"/><circle cx="328.1" cy="253.6" r="1.5"/><circle cx="332.3" cy="256.0" r="1.5"/><circle cx="321.1" cy="257.8" r="1.5"/><circle cx="323.4" cy="257.8" r="1.5"/><circle cx="327.6" cy="257.8" r="1.5"/><circle cx="312.2" cy="259.2" r="1.5"/><circle cx="315.0" cy="259.2" r="1.5"/><circle cx="318.3" cy="259.2" r="1.5"/><circle cx="330.0" cy="259.2" r="1.5"/><circle cx="314.0" cy="261.1" r="1.5"/><circle cx="320.1" cy="261.1" r="1.5"/><circle cx="324.8" cy="261.1" r="1.5"/><circle cx="328.1" cy="261.1" r="1.5"/><circle cx="315.0" cy="263.5" r="1.5"/><circle cx="317.3" cy="263.5" r="1.5"/><circle cx="322.5" cy="263.5" r="1.5"/><circle cx="326.7" cy="263.5" r="1.5"/><circle cx="322.5" cy="265.0" r="1.5"/><circle cx="311.0" cy="249.0" r="1.5"/><circle cx="314.0" cy="249.5" r="1.5"/><circle cx="318.0" cy="249.3" r="1.5"/><circle cx="325.0" cy="249.5" r="1.5"/><circle cx="329.0" cy="249.3" r="1.5"/><circle cx="332.0" cy="249.5" r="1.5"/><circle cx="316.0" cy="256.0" r="1.5"/><circle cx="320.0" cy="256.0" r="1.5"/><circle cx="324.0" cy="255.5" r="1.5"/></g>
<g fill="#a9072f"><path d="M359.60 185.75L357.85 188.75L361.35 188.75Z"/><path d="M359.90 192.25L358.15 195.25L361.65 195.25Z"/><path d="M358.70 196.45L356.95 199.45L360.45 199.45Z"/><path d="M361.10 196.45L359.35 199.45L362.85 199.45Z"/><path d="M363.60 201.05L361.85 204.05L365.35 204.05Z"/><path d="M360.90 204.35L359.15 207.35L362.65 207.35Z"/><path d="M356.20 206.25L354.45 209.25L357.95 209.25Z"/><path d="M363.80 206.75L362.05 209.75L365.55 209.75Z"/><path d="M358.70 211.15L356.95 214.15L360.45 214.15Z"/><path d="M361.60 214.85L359.85 217.85L363.35 217.85Z"/><path d="M358.70 217.75L356.95 220.75L360.45 220.75Z"/><path d="M358.50 231.15L356.75 234.15L360.25 234.15Z"/><path d="M361.00 230.65L359.25 233.65L362.75 233.65Z"/><path d="M357.20 236.25L355.45 239.25L358.95 239.25Z"/><path d="M360.00 235.75L358.25 238.75L361.75 238.75Z"/><path d="M362.40 235.95L360.65 238.95L364.15 238.95Z"/><path d="M358.70 240.65L356.95 243.65L360.45 243.65Z"/><path d="M366.20 240.85L364.45 243.85L367.95 243.85Z"/><path d="M355.90 243.45L354.15 246.45L357.65 246.45Z"/><path d="M361.30 243.45L359.55 246.45L363.05 246.45Z"/><path d="M363.60 244.15L361.85 247.15L365.35 247.15Z"/><path d="M366.20 245.75L364.45 248.75L367.95 248.75Z"/><path d="M351.10 248.55L349.35 251.55L352.85 251.55Z"/><path d="M353.50 248.55L351.75 251.55L355.25 251.55Z"/><path d="M358.50 248.55L356.75 251.55L360.25 251.55Z"/><path d="M363.60 248.55L361.85 251.55L365.35 251.55Z"/><path d="M370.80 248.55L369.05 251.55L372.55 251.55Z"/><path d="M348.70 251.15L346.95 254.15L350.45 254.15Z"/><path d="M367.70 251.15L365.95 254.15L369.45 254.15Z"/><path d="M356.40 252.65L354.65 255.65L358.15 255.65Z"/><path d="M359.00 252.65L357.25 255.65L360.75 255.65Z"/><path d="M361.00 252.65L359.25 255.65L362.75 255.65Z"/><path d="M365.60 252.65L363.85 255.65L367.35 255.65Z"/><path d="M370.80 252.65L369.05 255.65L372.55 255.65Z"/><path d="M353.30 253.65L351.55 256.65L355.05 256.65Z"/><path d="M363.60 253.65L361.85 256.65L365.35 256.65Z"/><path d="M358.30 261.85L356.55 264.85L360.05 264.85Z"/><path d="M361.00 261.15L359.25 264.15L362.75 264.15Z"/></g>
<g fill="#1a3f80"><circle cx="449.8" cy="218.8" r="1.5"/><circle cx="448.2" cy="221.5" r="1.5"/><circle cx="453.0" cy="222.4" r="1.5"/><circle cx="454.5" cy="227.8" r="1.5"/><circle cx="449.3" cy="253.0" r="1.5"/><circle cx="447.0" cy="223.2" r="1.5"/><circle cx="449.0" cy="223.2" r="1.5"/><circle cx="451.0" cy="223.2" r="1.5"/><circle cx="446.5" cy="225.2" r="1.5"/><circle cx="447.5" cy="225.2" r="1.5"/><circle cx="449.5" cy="225.2" r="1.5"/><circle cx="450.5" cy="225.2" r="1.5"/><circle cx="446.5" cy="227.2" r="1.5"/><circle cx="448.8" cy="227.2" r="1.5"/><circle cx="451.2" cy="227.2" r="1.5"/><circle cx="453.5" cy="227.2" r="1.5"/><circle cx="446.5" cy="229.2" r="1.5"/><circle cx="447.8" cy="229.2" r="1.5"/><circle cx="450.2" cy="229.2" r="1.5"/><circle cx="451.5" cy="229.2" r="1.5"/><circle cx="444.5" cy="231.2" r="1.5"/><circle cx="447.0" cy="231.2" r="1.5"/><circle cx="449.5" cy="231.2" r="1.5"/><circle cx="452.0" cy="231.2" r="1.5"/><circle cx="443.3" cy="233.2" r="1.5"/><circle cx="444.5" cy="233.2" r="1.5"/><circle cx="446.9" cy="233.2" r="1.5"/><circle cx="449.2" cy="233.2" r="1.5"/><circle cx="451.6" cy="233.2" r="1.5"/><circle cx="454.0" cy="233.2" r="1.5"/><circle cx="455.2" cy="233.2" r="1.5"/><circle cx="443.5" cy="235.2" r="1.5"/><circle cx="445.9" cy="235.2" r="1.5"/><circle cx="448.3" cy="235.2" r="1.5"/><circle cx="450.7" cy="235.2" r="1.5"/><circle cx="453.1" cy="235.2" r="1.5"/><circle cx="455.5" cy="235.2" r="1.5"/><circle cx="457.9" cy="235.2" r="1.5"/><circle cx="442.5" cy="237.2" r="1.5"/><circle cx="443.7" cy="237.2" r="1.5"/><circle cx="446.1" cy="237.2" r="1.5"/><circle cx="448.6" cy="237.2" r="1.5"/><circle cx="451.0" cy="237.2" r="1.5"/><circle cx="453.4" cy="237.2" r="1.5"/><circle cx="455.9" cy="237.2" r="1.5"/><circle cx="458.3" cy="237.2" r="1.5"/><circle cx="459.5" cy="237.2" r="1.5"/><circle cx="441.5" cy="239.2" r="1.5"/><circle cx="443.8" cy="239.2" r="1.5"/><circle cx="446.0" cy="239.2" r="1.5"/><circle cx="448.2" cy="239.2" r="1.5"/><circle cx="450.5" cy="239.2" r="1.5"/><circle cx="452.8" cy="239.2" r="1.5"/><circle cx="455.0" cy="239.2" r="1.5"/><circle cx="457.2" cy="239.2" r="1.5"/><circle cx="459.5" cy="239.2" r="1.5"/><circle cx="442.5" cy="241.2" r="1.5"/><circle cx="443.6" cy="241.2" r="1.5"/><circle cx="445.9" cy="241.2" r="1.5"/><circle cx="448.1" cy="241.2" r="1.5"/><circle cx="450.4" cy="241.2" r="1.5"/><circle cx="452.6" cy="241.2" r="1.5"/><circle cx="454.9" cy="241.2" r="1.5"/><circle cx="457.1" cy="241.2" r="1.5"/><circle cx="459.4" cy="241.2" r="1.5"/><circle cx="460.5" cy="241.2" r="1.5"/><circle cx="439.5" cy="243.2" r="1.5"/><circle cx="441.8" cy="243.2" r="1.5"/><circle cx="444.2" cy="243.2" r="1.5"/><circle cx="446.5" cy="243.2" r="1.5"/><circle cx="448.8" cy="243.2" r="1.5"/><circle cx="451.2" cy="243.2" r="1.5"/><circle cx="453.5" cy="243.2" r="1.5"/><circle cx="455.8" cy="243.2" r="1.5"/><circle cx="458.2" cy="243.2" r="1.5"/><circle cx="460.5" cy="243.2" r="1.5"/><circle cx="439.5" cy="245.2" r="1.5"/><circle cx="440.5" cy="245.2" r="1.5"/><circle cx="442.5" cy="245.2" r="1.5"/><circle cx="443.5" cy="245.2" r="1.5"/><circle cx="448.5" cy="245.2" r="1.5"/><circle cx="449.8" cy="245.2" r="1.5"/><circle cx="452.2" cy="245.2" r="1.5"/><circle cx="453.5" cy="245.2" r="1.5"/><circle cx="448.0" cy="247.2" r="1.5"/><circle cx="451.0" cy="247.2" r="1.5"/><circle cx="449.5" cy="249.2" r="1.5"/><circle cx="449.8" cy="249.2" r="1.5"/><circle cx="450.0" cy="249.2" r="1.5"/></g>
<g fill="#a9072f"><path d="M488.60 198.95L486.85 201.95L490.35 201.95Z"/><path d="M488.60 208.55L486.85 211.55L490.35 211.55Z"/><path d="M488.60 214.55L486.85 217.55L490.35 217.55Z"/><path d="M493.50 218.55L491.75 221.55L495.25 221.55Z"/><path d="M485.40 220.55L483.65 223.55L487.15 223.55Z"/><path d="M483.60 222.35L481.85 225.35L485.35 225.35Z"/><path d="M487.20 223.85L485.45 226.85L488.95 226.85Z"/><path d="M491.40 223.85L489.65 226.85L493.15 226.85Z"/><path d="M495.60 223.85L493.85 226.85L497.35 226.85Z"/><path d="M481.20 226.95L479.45 229.95L482.95 229.95Z"/><path d="M484.20 226.95L482.45 229.95L485.95 229.95Z"/><path d="M489.60 226.95L487.85 229.95L491.35 229.95Z"/><path d="M493.80 226.95L492.05 229.95L495.55 229.95Z"/><path d="M483.00 229.85L481.25 232.85L484.75 232.85Z"/><path d="M486.00 229.85L484.25 232.85L487.75 232.85Z"/><path d="M492.60 229.85L490.85 232.85L494.35 232.85Z"/><path d="M481.20 233.75L479.45 236.75L482.95 236.75Z"/><path d="M487.20 233.75L485.45 236.75L488.95 236.75Z"/><path d="M492.60 233.75L490.85 236.75L494.35 236.75Z"/><path d="M496.80 233.75L495.05 236.75L498.55 236.75Z"/><path d="M477.60 236.75L475.85 239.75L479.35 239.75Z"/><path d="M480.00 236.75L478.25 239.75L481.75 239.75Z"/><path d="M483.00 236.75L481.25 239.75L484.75 239.75Z"/><path d="M486.00 236.75L484.25 239.75L487.75 239.75Z"/><path d="M489.00 236.75L487.25 239.75L490.75 239.75Z"/><path d="M493.20 236.75L491.45 239.75L494.95 239.75Z"/><path d="M497.40 236.75L495.65 239.75L499.15 239.75Z"/><path d="M499.80 236.75L498.05 239.75L501.55 239.75Z"/><path d="M485.40 238.55L483.65 241.55L487.15 241.55Z"/><path d="M490.20 238.55L488.45 241.55L491.95 241.55Z"/><path d="M498.00 238.55L496.25 241.55L499.75 241.55Z"/><path d="M485.40 240.65L483.65 243.65L487.15 243.65Z"/><path d="M493.20 240.65L491.45 243.65L494.95 243.65Z"/><path d="M488.60 244.95L486.85 247.95L490.35 247.95Z"/></g>
<g fill="#1a3f80"><circle cx="62.9" cy="350.9" r="1.5"/><circle cx="62.1" cy="358.5" r="1.5"/><circle cx="63.8" cy="357.6" r="1.5"/><circle cx="62.9" cy="363.2" r="1.5"/><circle cx="62.1" cy="368.0" r="1.5"/><circle cx="63.8" cy="369.0" r="1.5"/><circle cx="62.9" cy="376.6" r="1.5"/><circle cx="57.5" cy="392.0" r="1.5"/><circle cx="68.5" cy="392.0" r="1.5"/><circle cx="56.5" cy="410.5" r="1.5"/><circle cx="62.0" cy="410.8" r="1.5"/><circle cx="68.0" cy="410.5" r="1.5"/><circle cx="62.2" cy="412.3" r="1.5"/><circle cx="64.5" cy="412.2" r="1.5"/><circle cx="61.9" cy="379.7" r="1.5"/><circle cx="63.8" cy="379.7" r="1.5"/><circle cx="65.6" cy="379.7" r="1.5"/><circle cx="59.9" cy="381.7" r="1.5"/><circle cx="60.9" cy="381.7" r="1.5"/><circle cx="63.0" cy="381.7" r="1.5"/><circle cx="65.1" cy="381.7" r="1.5"/><circle cx="66.1" cy="381.7" r="1.5"/><circle cx="58.3" cy="383.5" r="1.5"/><circle cx="60.5" cy="383.5" r="1.5"/><circle cx="62.7" cy="383.5" r="1.5"/><circle cx="64.9" cy="383.5" r="1.5"/><circle cx="67.1" cy="383.5" r="1.5"/><circle cx="59.5" cy="385.4" r="1.5"/><circle cx="60.7" cy="385.4" r="1.5"/><circle cx="63.0" cy="385.4" r="1.5"/><circle cx="65.3" cy="385.4" r="1.5"/><circle cx="66.5" cy="385.4" r="1.5"/><circle cx="61.4" cy="387.2" r="1.5"/><circle cx="62.8" cy="387.2" r="1.5"/><circle cx="61.9" cy="389.2" r="1.5"/><circle cx="62.6" cy="389.2" r="1.5"/><circle cx="63.3" cy="389.2" r="1.5"/><circle cx="60.5" cy="391.2" r="1.5"/><circle cx="62.5" cy="391.2" r="1.5"/><circle cx="64.5" cy="391.2" r="1.5"/><circle cx="56.8" cy="393.6" r="1.5"/><circle cx="57.9" cy="393.6" r="1.5"/><circle cx="60.2" cy="393.6" r="1.5"/><circle cx="62.4" cy="393.6" r="1.5"/><circle cx="64.7" cy="393.6" r="1.5"/><circle cx="67.0" cy="393.6" r="1.5"/><circle cx="68.1" cy="393.6" r="1.5"/><circle cx="57.8" cy="395.6" r="1.5"/><circle cx="60.0" cy="395.6" r="1.5"/><circle cx="62.2" cy="395.6" r="1.5"/><circle cx="64.4" cy="395.6" r="1.5"/><circle cx="66.6" cy="395.6" r="1.5"/><circle cx="52.1" cy="397.8" r="1.5"/><circle cx="53.3" cy="397.8" r="1.5"/><circle cx="55.7" cy="397.8" r="1.5"/><circle cx="58.0" cy="397.8" r="1.5"/><circle cx="60.4" cy="397.8" r="1.5"/><circle cx="62.8" cy="397.8" r="1.5"/><circle cx="65.2" cy="397.8" r="1.5"/><circle cx="67.6" cy="397.8" r="1.5"/><circle cx="69.9" cy="397.8" r="1.5"/><circle cx="72.3" cy="397.8" r="1.5"/><circle cx="73.5" cy="397.8" r="1.5"/><circle cx="53.2" cy="399.8" r="1.5"/><circle cx="55.6" cy="399.8" r="1.5"/><circle cx="58.0" cy="399.8" r="1.5"/><circle cx="60.3" cy="399.8" r="1.5"/><circle cx="62.7" cy="399.8" r="1.5"/><circle cx="65.1" cy="399.8" r="1.5"/><circle cx="67.5" cy="399.8" r="1.5"/><circle cx="69.8" cy="399.8" r="1.5"/><circle cx="72.2" cy="399.8" r="1.5"/><circle cx="55.8" cy="401.6" r="1.5"/><circle cx="57.0" cy="401.6" r="1.5"/><circle cx="59.4" cy="401.6" r="1.5"/><circle cx="61.8" cy="401.6" r="1.5"/><circle cx="64.2" cy="401.6" r="1.5"/><circle cx="66.6" cy="401.6" r="1.5"/><circle cx="69.0" cy="401.6" r="1.5"/><circle cx="70.2" cy="401.6" r="1.5"/><circle cx="58.5" cy="403.4" r="1.5"/><circle cx="61.2" cy="403.4" r="1.5"/><circle cx="63.8" cy="403.4" r="1.5"/><circle cx="66.5" cy="403.4" r="1.5"/><circle cx="60.9" cy="405.2" r="1.5"/><circle cx="62.5" cy="405.2" r="1.5"/><circle cx="64.0" cy="405.2" r="1.5"/><circle cx="59.9" cy="407.0" r="1.5"/><circle cx="62.8" cy="407.0" r="1.5"/><circle cx="65.6" cy="407.0" r="1.5"/><circle cx="58.8" cy="409.0" r="1.5"/><circle cx="60.1" cy="409.0" r="1.5"/><circle cx="62.7" cy="409.0" r="1.5"/><circle cx="65.3" cy="409.0" r="1.5"/><circle cx="66.6" cy="409.0" r="1.5"/></g>
<g fill="#a9072f"><path d="M97.90 337.45L96.15 340.45L99.65 340.45Z"/><path d="M97.90 343.85L96.15 346.85L99.65 346.85Z"/><path d="M94.50 347.95L92.75 350.95L96.25 350.95Z"/><path d="M101.50 347.95L99.75 350.95L103.25 350.95Z"/><path d="M94.50 351.35L92.75 354.35L96.25 354.35Z"/><path d="M101.50 354.85L99.75 357.85L103.25 357.85Z"/><path d="M94.50 356.95L92.75 359.95L96.25 359.95Z"/><path d="M97.90 365.15L96.15 368.15L99.65 368.15Z"/><path d="M97.80 379.65L96.05 382.65L99.55 382.65Z"/><path d="M94.60 388.75L92.85 391.75L96.35 391.75Z"/><path d="M87.90 390.95L86.15 393.95L89.65 393.95Z"/><path d="M108.20 391.25L106.45 394.25L109.95 394.25Z"/><path d="M101.50 392.35L99.75 395.35L103.25 395.35Z"/><path d="M94.60 393.65L92.85 396.65L96.35 396.65Z"/><path d="M101.50 396.25L99.75 399.25L103.25 399.25Z"/><path d="M94.60 396.85L92.85 399.85L96.35 399.85Z"/><path d="M87.90 399.15L86.15 402.15L89.65 402.15Z"/><path d="M107.90 398.75L106.15 401.75L109.65 401.75Z"/><path d="M94.60 400.85L92.85 403.85L96.35 403.85Z"/><path d="M101.30 401.95L99.55 404.95L103.05 404.95Z"/><path d="M97.80 408.35L96.05 411.35L99.55 411.35Z"/></g>
<g fill="#1a3f80"><circle cx="191.6" cy="355.1" r="1.5"/><circle cx="191.6" cy="371.4" r="1.5"/><circle cx="191.0" cy="375.6" r="1.5"/><circle cx="192.9" cy="376.2" r="1.5"/><circle cx="188.4" cy="379.4" r="1.5"/><circle cx="190.6" cy="379.8" r="1.5"/><circle cx="194.8" cy="379.4" r="1.5"/><circle cx="188.2" cy="381.6" r="1.5"/><circle cx="194.9" cy="381.6" r="1.5"/><circle cx="188.6" cy="383.6" r="1.5"/><circle cx="190.6" cy="384.0" r="1.5"/><circle cx="193.0" cy="384.0" r="1.5"/><circle cx="194.8" cy="383.6" r="1.5"/><circle cx="189.5" cy="385.8" r="1.5"/><circle cx="192.0" cy="386.0" r="1.5"/><circle cx="194.0" cy="385.8" r="1.5"/><circle cx="181.5" cy="398.2" r="1.5"/><circle cx="183.0" cy="400.0" r="1.5"/><circle cx="200.5" cy="398.2" r="1.5"/><circle cx="199.8" cy="400.2" r="1.5"/><circle cx="191.4" cy="410.9" r="1.5"/><circle cx="187.0" cy="387.6" r="1.5"/><circle cx="189.2" cy="387.6" r="1.5"/><circle cx="191.5" cy="387.6" r="1.5"/><circle cx="193.8" cy="387.6" r="1.5"/><circle cx="196.0" cy="387.6" r="1.5"/><circle cx="186.0" cy="389.2" r="1.5"/><circle cx="187.1" cy="389.2" r="1.5"/><circle cx="189.3" cy="389.2" r="1.5"/><circle cx="191.5" cy="389.2" r="1.5"/><circle cx="193.7" cy="389.2" r="1.5"/><circle cx="195.9" cy="389.2" r="1.5"/><circle cx="197.0" cy="389.2" r="1.5"/><circle cx="186.5" cy="391.1" r="1.5"/><circle cx="189.0" cy="391.1" r="1.5"/><circle cx="191.5" cy="391.1" r="1.5"/><circle cx="194.0" cy="391.1" r="1.5"/><circle cx="196.5" cy="391.1" r="1.5"/><circle cx="187.5" cy="392.9" r="1.5"/><circle cx="188.8" cy="392.9" r="1.5"/><circle cx="191.5" cy="392.9" r="1.5"/><circle cx="194.2" cy="392.9" r="1.5"/><circle cx="195.5" cy="392.9" r="1.5"/><circle cx="186.5" cy="394.7" r="1.5"/><circle cx="189.0" cy="394.7" r="1.5"/><circle cx="191.5" cy="394.7" r="1.5"/><circle cx="194.0" cy="394.7" r="1.5"/><circle cx="196.5" cy="394.7" r="1.5"/><circle cx="185.5" cy="396.5" r="1.5"/><circle cx="186.6" cy="396.5" r="1.5"/><circle cx="188.8" cy="396.5" r="1.5"/><circle cx="191.0" cy="396.5" r="1.5"/><circle cx="193.2" cy="396.5" r="1.5"/><circle cx="195.4" cy="396.5" r="1.5"/><circle cx="196.5" cy="396.5" r="1.5"/><circle cx="186.5" cy="398.2" r="1.5"/><circle cx="189.0" cy="398.2" r="1.5"/><circle cx="191.5" cy="398.2" r="1.5"/><circle cx="194.0" cy="398.2" r="1.5"/><circle cx="196.5" cy="398.2" r="1.5"/><circle cx="187.5" cy="400.2" r="1.5"/><circle cx="188.7" cy="400.2" r="1.5"/><circle cx="191.0" cy="400.2" r="1.5"/><circle cx="193.3" cy="400.2" r="1.5"/><circle cx="194.5" cy="400.2" r="1.5"/><circle cx="188.5" cy="402.2" r="1.5"/><circle cx="190.5" cy="402.2" r="1.5"/><circle cx="192.5" cy="402.2" r="1.5"/><circle cx="194.5" cy="402.2" r="1.5"/><circle cx="189.0" cy="404.4" r="1.5"/><circle cx="190.1" cy="404.4" r="1.5"/><circle cx="192.4" cy="404.4" r="1.5"/><circle cx="193.5" cy="404.4" r="1.5"/><circle cx="189.5" cy="406.6" r="1.5"/><circle cx="191.5" cy="406.6" r="1.5"/></g>
<g fill="#a9072f"><path d="M226.60 364.25L224.85 367.25L228.35 367.25Z"/><path d="M226.60 377.35L224.85 380.35L228.35 380.35Z"/><path d="M216.60 380.95L214.85 383.95L218.35 383.95Z"/><path d="M220.70 380.95L218.95 383.95L222.45 383.95Z"/><path d="M236.70 380.95L234.95 383.95L238.45 383.95Z"/><path d="M224.40 382.75L222.65 385.75L226.15 385.75Z"/><path d="M229.00 382.75L227.25 385.75L230.75 385.75Z"/><path d="M232.60 382.75L230.85 385.75L234.35 385.75Z"/><path d="M220.70 383.95L218.95 386.95L222.45 386.95Z"/><path d="M224.40 386.65L222.65 389.65L226.15 389.65Z"/><path d="M228.70 386.65L226.95 389.65L230.45 389.65Z"/><path d="M220.70 389.55L218.95 392.55L222.45 392.55Z"/><path d="M224.40 389.55L222.65 392.55L226.15 392.55Z"/><path d="M236.70 389.55L234.95 392.55L238.45 392.55Z"/><path d="M216.60 392.35L214.85 395.35L218.35 395.35Z"/><path d="M220.70 394.65L218.95 397.65L222.45 397.65Z"/><path d="M224.40 394.65L222.65 397.65L226.15 397.65Z"/><path d="M228.70 394.65L226.95 397.65L230.45 397.65Z"/><path d="M236.70 394.65L234.95 397.65L238.45 397.65Z"/><path d="M216.60 395.75L214.85 398.75L218.35 398.75Z"/><path d="M232.60 395.75L230.85 398.75L234.35 398.75Z"/></g>
<g fill="none" stroke-opacity="0.88"><line x1="65.5" y1="90.5" x2="65.5" y2="103" stroke="#a5173f" stroke-width="1.35"/><line x1="59" y1="90.5" x2="72" y2="90.5" stroke="#a5173f" stroke-width="1.35"/><line x1="59" y1="103" x2="72" y2="103" stroke="#a5173f" stroke-width="1.35"/><line x1="53" y1="97.7" x2="78" y2="97.7" stroke="#9a1442" stroke-width="1.8"/></g>
<g fill="none" stroke-opacity="0.88"><line x1="103.6" y1="72.5" x2="103.6" y2="99.7" stroke="#6681b3" stroke-width="1.2"/><line x1="97.3" y1="72.5" x2="109.8" y2="72.5" stroke="#6681b3" stroke-width="1.2"/><line x1="97.8" y1="99.7" x2="109.5" y2="99.7" stroke="#6681b3" stroke-width="1.2"/><line x1="91.4" y1="90.4" x2="115.9" y2="90.4" stroke="#2f4f8f" stroke-width="1.5"/></g>
<g fill="none" stroke-opacity="0.88"><line x1="193.6" y1="82.5" x2="193.6" y2="91" stroke="#a5173f" stroke-width="1.35"/><line x1="187" y1="82.5" x2="199.8" y2="82.5" stroke="#a5173f" stroke-width="1.35"/><line x1="187" y1="91" x2="199.8" y2="91" stroke="#a5173f" stroke-width="1.35"/><line x1="181.3" y1="87.5" x2="205.5" y2="87.5" stroke="#9a1442" stroke-width="1.8"/></g>
<g fill="none" stroke-opacity="0.88"><line x1="232.1" y1="77.3" x2="232.1" y2="87.8" stroke="#6681b3" stroke-width="1.2"/><line x1="225.7" y1="77.3" x2="238" y2="77.3" stroke="#6681b3" stroke-width="1.2"/><line x1="225.7" y1="87.8" x2="238" y2="87.8" stroke="#6681b3" stroke-width="1.2"/><line x1="219.4" y1="81.6" x2="243.9" y2="81.6" stroke="#2f4f8f" stroke-width="1.5"/></g>
<g fill="none" stroke-opacity="0.88"><line x1="321.6" y1="84.3" x2="321.6" y2="103.4" stroke="#a5173f" stroke-width="1.35"/><line x1="315.2" y1="84.3" x2="328" y2="84.3" stroke="#a5173f" stroke-width="1.35"/><line x1="315.2" y1="103.4" x2="328" y2="103.4" stroke="#a5173f" stroke-width="1.35"/><line x1="309.4" y1="98" x2="333.9" y2="98" stroke="#9a1442" stroke-width="1.8"/></g>
<g fill="none" stroke-opacity="0.88"><line x1="360.3" y1="84.6" x2="360.3" y2="100" stroke="#6681b3" stroke-width="1.2"/><line x1="353.8" y1="84.6" x2="366.7" y2="84.6" stroke="#6681b3" stroke-width="1.2"/><line x1="353.8" y1="100" x2="366.7" y2="100" stroke="#6681b3" stroke-width="1.2"/><line x1="348" y1="93.8" x2="372.5" y2="93.8" stroke="#2f4f8f" stroke-width="1.5"/></g>
<g fill="none" stroke-opacity="0.88"><line x1="449.4" y1="83.6" x2="449.4" y2="91" stroke="#a5173f" stroke-width="1.35"/><line x1="443.4" y1="83.6" x2="455.8" y2="83.6" stroke="#a5173f" stroke-width="1.35"/><line x1="443.4" y1="91" x2="455.8" y2="91" stroke="#a5173f" stroke-width="1.35"/><line x1="437.3" y1="87.2" x2="462.1" y2="87.2" stroke="#9a1442" stroke-width="1.8"/></g>
<g fill="none" stroke-opacity="0.88"><line x1="488.6" y1="74.4" x2="488.6" y2="85" stroke="#6681b3" stroke-width="1.2"/><line x1="482.5" y1="74.4" x2="494.7" y2="74.4" stroke="#6681b3" stroke-width="1.2"/><line x1="482.5" y1="85" x2="494.7" y2="85" stroke="#6681b3" stroke-width="1.2"/><line x1="475.6" y1="80.7" x2="500.3" y2="80.7" stroke="#2f4f8f" stroke-width="1.5"/></g>
<g fill="none" stroke-opacity="0.88"><line x1="65.2" y1="232.4" x2="65.2" y2="242.4" stroke="#a5173f" stroke-width="1.35"/><line x1="59.1" y1="232.4" x2="71.2" y2="232.4" stroke="#a5173f" stroke-width="1.35"/><line x1="59.1" y1="242.4" x2="71.2" y2="242.4" stroke="#a5173f" stroke-width="1.35"/><line x1="53" y1="238.2" x2="77.8" y2="238.2" stroke="#9a1442" stroke-width="1.8"/></g>
<g fill="none" stroke-opacity="0.88"><line x1="103.8" y1="209.8" x2="103.8" y2="235.1" stroke="#6681b3" stroke-width="1.2"/><line x1="97.4" y1="209.8" x2="110.1" y2="209.8" stroke="#6681b3" stroke-width="1.2"/><line x1="97.4" y1="235.1" x2="110.1" y2="235.1" stroke="#6681b3" stroke-width="1.2"/><line x1="91.4" y1="229.5" x2="115.8" y2="229.5" stroke="#2f4f8f" stroke-width="1.5"/></g>
<g fill="none" stroke-opacity="0.88"><line x1="194" y1="228.9" x2="194" y2="245.4" stroke="#a5173f" stroke-width="1.35"/><line x1="187.6" y1="228.9" x2="200.5" y2="228.9" stroke="#a5173f" stroke-width="1.35"/><line x1="187.6" y1="245.4" x2="200.5" y2="245.4" stroke="#a5173f" stroke-width="1.35"/><line x1="181.6" y1="241.5" x2="206.3" y2="241.5" stroke="#9a1442" stroke-width="1.8"/></g>
<g fill="none" stroke-opacity="0.88"><line x1="232.7" y1="233.6" x2="232.7" y2="246.9" stroke="#6681b3" stroke-width="1.2"/><line x1="226.1" y1="233.6" x2="238.8" y2="233.6" stroke="#6681b3" stroke-width="1.2"/><line x1="226.1" y1="246.9" x2="238.8" y2="246.9" stroke="#6681b3" stroke-width="1.2"/><line x1="220.1" y1="240.4" x2="244.7" y2="240.4" stroke="#2f4f8f" stroke-width="1.5"/></g>
<g fill="none" stroke-opacity="0.88"><line x1="321.3" y1="239.3" x2="321.3" y2="256" stroke="#a5173f" stroke-width="1.35"/><line x1="315.4" y1="239.3" x2="327.6" y2="239.3" stroke="#a5173f" stroke-width="1.35"/><line x1="315.4" y1="256" x2="327.6" y2="256" stroke="#a5173f" stroke-width="1.35"/><line x1="308.9" y1="249.4" x2="333.7" y2="249.4" stroke="#9a1442" stroke-width="1.8"/></g>
<g fill="none" stroke-opacity="0.88"><line x1="359.7" y1="214.8" x2="359.7" y2="252.3" stroke="#6681b3" stroke-width="1.2"/><line x1="353.3" y1="214.8" x2="366" y2="214.8" stroke="#6681b3" stroke-width="1.2"/><line x1="353.3" y1="252.3" x2="366.7" y2="252.3" stroke="#6681b3" stroke-width="1.2"/><line x1="347.7" y1="244" x2="371.8" y2="244" stroke="#2f4f8f" stroke-width="1.5"/></g>
<g fill="none" stroke-opacity="0.88"><line x1="450.1" y1="233.3" x2="450.1" y2="242" stroke="#a5173f" stroke-width="1.35"/><line x1="443.9" y1="233.3" x2="456.2" y2="233.3" stroke="#a5173f" stroke-width="1.35"/><line x1="443.9" y1="242" x2="456.2" y2="242" stroke="#a5173f" stroke-width="1.35"/><line x1="437.7" y1="238.4" x2="462.6" y2="238.4" stroke="#9a1442" stroke-width="1.8"/></g>
<g fill="none" stroke-opacity="0.88"><line x1="488.6" y1="226.2" x2="488.6" y2="238.4" stroke="#6681b3" stroke-width="1.2"/><line x1="482.4" y1="226.2" x2="496.8" y2="226.2" stroke="#6681b3" stroke-width="1.2"/><line x1="482.4" y1="238.4" x2="496.8" y2="238.4" stroke="#6681b3" stroke-width="1.2"/><line x1="476.2" y1="233.9" x2="501" y2="233.9" stroke="#2f4f8f" stroke-width="1.5"/></g>
<g fill="none" stroke-opacity="0.88"><line x1="62.7" y1="385.4" x2="62.7" y2="403.2" stroke="#a5173f" stroke-width="1.35"/><line x1="56.6" y1="385.4" x2="69.2" y2="385.4" stroke="#a5173f" stroke-width="1.35"/><line x1="56.6" y1="403.2" x2="69.2" y2="403.2" stroke="#a5173f" stroke-width="1.35"/><line x1="50.4" y1="398.2" x2="75.3" y2="398.2" stroke="#9a1442" stroke-width="1.8"/></g>
<g fill="none" stroke-opacity="0.88"><line x1="97.9" y1="354.8" x2="97.9" y2="399.2" stroke="#6681b3" stroke-width="1.2"/><line x1="91.2" y1="354.8" x2="104" y2="354.8" stroke="#6681b3" stroke-width="1.2"/><line x1="91.6" y1="399.2" x2="103.9" y2="399.2" stroke="#6681b3" stroke-width="1.2"/><line x1="85.7" y1="392.4" x2="110" y2="392.4" stroke="#2f4f8f" stroke-width="1.5"/></g>
<g fill="none" stroke-opacity="0.88"><line x1="191.4" y1="387.8" x2="191.4" y2="399" stroke="#a5173f" stroke-width="1.35"/><line x1="185.1" y1="387.8" x2="197.7" y2="387.8" stroke="#a5173f" stroke-width="1.35"/><line x1="185.1" y1="399" x2="197.7" y2="399" stroke="#a5173f" stroke-width="1.35"/><line x1="179.3" y1="394.7" x2="203.8" y2="394.7" stroke="#9a1442" stroke-width="1.8"/></g>
<g fill="none" stroke-opacity="0.88"><line x1="226.9" y1="383.2" x2="226.9" y2="395.3" stroke="#6681b3" stroke-width="1.2"/><line x1="220.1" y1="383.2" x2="233" y2="383.2" stroke="#6681b3" stroke-width="1.2"/><line x1="220.1" y1="395.3" x2="233" y2="395.3" stroke="#6681b3" stroke-width="1.2"/><line x1="214.5" y1="388.8" x2="239.1" y2="388.8" stroke="#2f4f8f" stroke-width="1.5"/></g>
</svg>
</body></html>
